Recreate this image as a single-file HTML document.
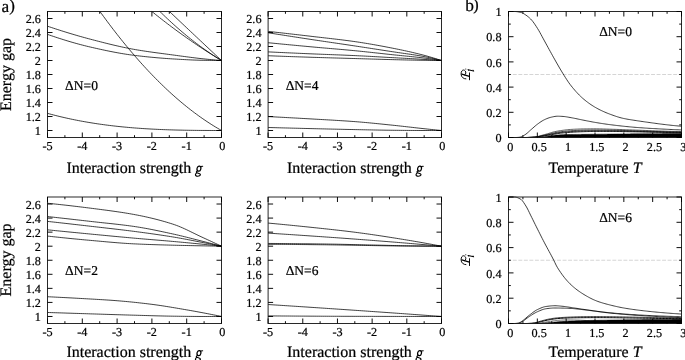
<!DOCTYPE html>
<html><head><meta charset="utf-8"><title>figure</title>
<style>html,body{margin:0;padding:0;background:#fff;}body{width:685px;height:360px;overflow:hidden;font-family:"Liberation Serif",serif;}svg{display:block;will-change:transform;}</style></head>
<body>
<svg width="685" height="360" viewBox="0 0 685 360" font-family='"Liberation Serif", serif' fill="#000" text-rendering="geometricPrecision">
<style>text{stroke:#000;stroke-width:0.22px;paint-order:stroke;}</style>
<rect width="685" height="360" fill="#fff"/>
<path d="M47.5,113.35L49.43,113.88L51.37,114.4L53.3,114.9L55.23,115.4L57.17,115.89L59.1,116.36L61.03,116.83L62.97,117.28L64.9,117.73L66.83,118.16L68.77,118.59L70.7,119L72.63,119.41L74.57,119.8L76.5,120.19L78.43,120.57L80.37,120.94L82.3,121.29L84.23,121.64L86.17,121.98L88.1,122.32L90.03,122.64L91.97,122.95L93.9,123.26L95.83,123.56L97.77,123.85L99.7,124.13L101.63,124.4L103.57,124.67L105.5,124.93L107.43,125.18L109.37,125.42L111.3,125.65L113.23,125.88L115.17,126.1L117.1,126.32L119.03,126.52L120.97,126.72L122.9,126.92L124.83,127.1L126.77,127.28L128.7,127.46L130.63,127.62L132.57,127.79L134.5,127.94L136.43,128.09L138.37,128.23L140.3,128.37L142.23,128.5L144.17,128.63L146.1,128.75L148.03,128.87L149.97,128.98L151.9,129.08L153.83,129.18L155.77,129.28L157.7,129.37L159.63,129.46L161.57,129.54L163.5,129.62L165.43,129.69L167.37,129.76L169.3,129.83L171.23,129.89L173.17,129.95L175.1,130L177.03,130.05L178.97,130.1L180.9,130.14L182.83,130.18L184.77,130.22L186.7,130.26L188.63,130.29L190.57,130.32L192.5,130.34L194.43,130.37L196.37,130.39L198.3,130.41L200.23,130.43L202.17,130.44L204.1,130.45L206.03,130.46L207.97,130.47L209.9,130.48L211.83,130.49L213.77,130.49L215.7,130.5L217.63,130.5L219.57,130.5L221.5,130.5" fill="none" stroke="#000" stroke-width="0.75" stroke-linejoin="round"/>
<path d="M99.95,11.5L101.63,13.83L103.57,16.49L105.5,19.12L107.43,21.73L109.37,24.31L111.3,26.87L113.23,29.4L115.17,31.9L117.1,34.38L119.03,36.84L120.97,39.27L122.9,41.67L124.83,44.05L126.77,46.4L128.7,48.73L130.63,51.03L132.57,53.31L134.5,55.56L136.43,57.78L138.37,59.98L140.3,62.16L142.23,64.3L144.17,66.43L146.1,68.53L148.03,70.6L149.97,72.65L151.9,74.67L153.83,76.66L155.77,78.64L157.7,80.58L159.63,82.5L161.57,84.39L163.5,86.26L165.43,88.11L167.37,89.93L169.3,91.72L171.23,93.49L173.17,95.23L175.1,96.94L177.03,98.63L178.97,100.3L180.9,101.94L182.83,103.55L184.77,105.14L186.7,106.71L188.63,108.25L190.57,109.76L192.5,111.25L194.43,112.71L196.37,114.14L198.3,115.55L200.23,116.94L202.17,118.3L204.1,119.63L206.03,120.94L207.97,122.23L209.9,123.49L211.83,124.72L213.77,125.93L215.7,127.11L217.63,128.26L219.57,129.39L221.5,130.5" fill="none" stroke="#000" stroke-width="0.75" stroke-linejoin="round"/>
<path d="M47.5,26.2L49.46,26.86L51.41,27.51L53.37,28.16L55.32,28.8L57.28,29.43L59.23,30.06L61.19,30.69L63.14,31.3L65.1,31.91L67.05,32.52L69.01,33.12L70.96,33.71L72.92,34.29L74.87,34.87L76.83,35.44L78.78,36L80.74,36.56L82.69,37.11L84.65,37.65L86.6,38.19L88.56,38.71L90.51,39.23L92.47,39.74L94.42,40.26L96.38,40.76L98.33,41.27L100.29,41.77L102.24,42.27L104.2,42.77L106.15,43.26L108.11,43.74L110.06,44.22L112.02,44.69L113.97,45.16L115.93,45.61L117.88,46.06L119.84,46.5L121.79,46.93L123.75,47.35L125.7,47.75L127.66,48.15L129.61,48.53L131.57,48.91L133.52,49.27L135.48,49.61L137.43,49.95L139.39,50.27L141.34,50.59L143.3,50.89L145.25,51.19L147.21,51.48L149.16,51.77L151.12,52.04L153.07,52.32L155.03,52.59L156.98,52.85L158.94,53.11L160.89,53.37L162.85,53.63L164.8,53.89L166.76,54.15L168.71,54.41L170.67,54.66L172.62,54.93L174.58,55.19L176.53,55.45L178.49,55.72L180.44,55.99L182.4,56.25L184.35,56.51L186.31,56.78L188.26,57.03L190.22,57.29L192.17,57.54L194.13,57.78L196.08,58.02L198.04,58.25L199.99,58.47L201.95,58.69L203.9,58.89L205.86,59.09L207.81,59.29L209.77,59.48L211.72,59.66L213.68,59.84L215.63,60.02L217.59,60.18L219.54,60.34L221.5,60.5" fill="none" stroke="#000" stroke-width="0.75" stroke-linejoin="round"/>
<path d="M47.5,34.39L49.46,35.07L51.41,35.73L53.37,36.39L55.32,37.05L57.28,37.69L59.23,38.33L61.19,38.95L63.14,39.57L65.1,40.18L67.05,40.78L69.01,41.36L70.96,41.94L72.92,42.51L74.87,43.06L76.83,43.61L78.78,44.14L80.74,44.66L82.69,45.17L84.65,45.67L86.6,46.16L88.56,46.63L90.51,47.09L92.47,47.54L94.42,47.98L96.38,48.42L98.33,48.86L100.29,49.29L102.24,49.71L104.2,50.13L106.15,50.55L108.11,50.95L110.06,51.35L112.02,51.73L113.97,52.11L115.93,52.48L117.88,52.84L119.84,53.19L121.79,53.53L123.75,53.85L125.7,54.16L127.66,54.46L129.61,54.74L131.57,55.01L133.52,55.27L135.48,55.51L137.43,55.74L139.39,55.97L141.34,56.19L143.3,56.41L145.25,56.62L147.21,56.82L149.16,57.02L151.12,57.21L153.07,57.39L155.03,57.57L156.98,57.75L158.94,57.91L160.89,58.07L162.85,58.23L164.8,58.38L166.76,58.52L168.71,58.66L170.67,58.78L172.62,58.91L174.58,59.03L176.53,59.14L178.49,59.26L180.44,59.37L182.4,59.48L184.35,59.59L186.31,59.7L188.26,59.79L190.22,59.89L192.17,59.97L194.13,60.05L196.08,60.12L198.04,60.18L199.99,60.24L201.95,60.28L203.9,60.31L205.86,60.35L207.81,60.38L209.77,60.41L211.72,60.43L213.68,60.45L215.63,60.47L217.59,60.49L219.54,60.5L221.5,60.5" fill="none" stroke="#000" stroke-width="0.75" stroke-linejoin="round"/>
<path d="M151.9,11.5L151.9,11.5L153.83,13.06L155.77,14.61L157.7,16.14L159.63,17.67L161.57,19.18L163.5,20.69L165.43,22.18L167.37,23.66L169.3,25.13L171.23,26.58L173.17,28.03L175.1,29.46L177.03,30.89L178.97,32.3L180.9,33.7L182.83,35.09L184.77,36.47L186.7,37.83L188.63,39.19L190.57,40.53L192.5,41.87L194.43,43.19L196.37,44.5L198.3,45.8L200.23,47.08L202.17,48.36L204.1,49.63L206.03,50.88L207.97,52.12L209.9,53.35L211.83,54.57L213.77,55.78L215.7,56.98L217.63,58.16L219.57,59.34L221.5,60.5" fill="none" stroke="#000" stroke-width="0.75" stroke-linejoin="round"/>
<path d="M159.92,11.5L161.57,13.12L163.5,15L165.43,16.86L167.37,18.69L169.3,20.49L171.23,22.28L173.17,24.04L175.1,25.78L177.03,27.5L178.97,29.19L180.9,30.85L182.83,32.5L184.77,34.12L186.7,35.72L188.63,37.3L190.57,38.85L192.5,40.38L194.43,41.88L196.37,43.36L198.3,44.82L200.23,46.25L202.17,47.67L204.1,49.06L206.03,50.42L207.97,51.76L209.9,53.08L211.83,54.37L213.77,55.65L215.7,56.89L217.63,58.12L219.57,59.32L221.5,60.5" fill="none" stroke="#000" stroke-width="0.75" stroke-linejoin="round"/>
<path d="M169.45,11.5L171.23,13.19L173.17,15.02L175.1,16.85L177.03,18.68L178.97,20.51L180.9,22.33L182.83,24.16L184.77,25.99L186.7,27.81L188.63,29.63L190.57,31.46L192.5,33.28L194.43,35.1L196.37,36.92L198.3,38.74L200.23,40.56L202.17,42.37L204.1,44.19L206.03,46.01L207.97,47.82L209.9,49.63L211.83,51.45L213.77,53.26L215.7,55.07L217.63,56.88L219.57,58.69L221.5,60.5" fill="none" stroke="#000" stroke-width="0.75" stroke-linejoin="round"/>
<path d="M268.1,31.38L270.05,31.6L272,31.82L273.94,32.03L275.89,32.25L277.84,32.47L279.79,32.69L281.74,32.91L283.69,33.14L285.63,33.36L287.58,33.58L289.53,33.8L291.48,34.03L293.43,34.25L295.38,34.48L297.32,34.7L299.27,34.93L301.22,35.15L303.17,35.38L305.12,35.61L307.07,35.84L309.01,36.06L310.96,36.29L312.91,36.52L314.86,36.75L316.81,36.97L318.76,37.2L320.7,37.42L322.65,37.64L324.6,37.86L326.55,38.08L328.5,38.3L330.45,38.53L332.39,38.75L334.34,38.98L336.29,39.21L338.24,39.44L340.19,39.68L342.14,39.92L344.08,40.16L346.03,40.41L347.98,40.66L349.93,40.92L351.88,41.19L353.83,41.46L355.77,41.74L357.72,42.03L359.67,42.32L361.62,42.62L363.57,42.93L365.52,43.25L367.46,43.57L369.41,43.9L371.36,44.23L373.31,44.57L375.26,44.92L377.21,45.27L379.15,45.62L381.1,45.98L383.05,46.34L385,46.71L386.95,47.08L388.9,47.46L390.84,47.84L392.79,48.22L394.74,48.61L396.69,49L398.64,49.4L400.59,49.8L402.53,50.21L404.48,50.63L406.43,51.05L408.38,51.48L410.33,51.92L412.28,52.37L414.22,52.83L416.17,53.3L418.12,53.77L420.07,54.26L422.02,54.75L423.97,55.26L425.91,55.78L427.86,56.32L429.81,56.88L431.76,57.46L433.71,58.04L435.66,58.64L437.6,59.25L439.55,59.87L441.5,60.5" fill="none" stroke="#000" stroke-width="0.75" stroke-linejoin="round"/>
<path d="M268.1,32.78L270.05,33.09L272,33.4L273.94,33.7L275.89,34.01L277.84,34.31L279.79,34.62L281.74,34.92L283.69,35.23L285.63,35.53L287.58,35.84L289.53,36.14L291.48,36.44L293.43,36.74L295.38,37.04L297.32,37.34L299.27,37.64L301.22,37.94L303.17,38.24L305.12,38.54L307.07,38.83L309.01,39.13L310.96,39.43L312.91,39.72L314.86,40.02L316.81,40.31L318.76,40.6L320.7,40.89L322.65,41.18L324.6,41.47L326.55,41.76L328.5,42.04L330.45,42.33L332.39,42.62L334.34,42.9L336.29,43.19L338.24,43.48L340.19,43.76L342.14,44.05L344.08,44.34L346.03,44.63L347.98,44.92L349.93,45.21L351.88,45.5L353.83,45.79L355.77,46.09L357.72,46.38L359.67,46.68L361.62,46.97L363.57,47.27L365.52,47.57L367.46,47.87L369.41,48.17L371.36,48.47L373.31,48.77L375.26,49.07L377.21,49.37L379.15,49.67L381.1,49.97L383.05,50.27L385,50.57L386.95,50.86L388.9,51.16L390.84,51.46L392.79,51.76L394.74,52.06L396.69,52.35L398.64,52.63L400.59,52.91L402.53,53.19L404.48,53.46L406.43,53.74L408.38,54.02L410.33,54.31L412.28,54.6L414.22,54.89L416.17,55.2L418.12,55.52L420.07,55.85L422.02,56.19L423.97,56.56L425.91,56.94L427.86,57.33L429.81,57.75L431.76,58.18L433.71,58.62L435.66,59.08L437.6,59.54L439.55,60.02L441.5,60.5" fill="none" stroke="#000" stroke-width="0.75" stroke-linejoin="round"/>
<path d="M268.1,42.72L270.05,42.91L272,43.1L273.94,43.29L275.89,43.48L277.84,43.67L279.79,43.86L281.74,44.05L283.69,44.24L285.63,44.42L287.58,44.61L289.53,44.8L291.48,44.98L293.43,45.17L295.38,45.35L297.32,45.54L299.27,45.72L301.22,45.9L303.17,46.08L305.12,46.26L307.07,46.45L309.01,46.63L310.96,46.81L312.91,46.98L314.86,47.16L316.81,47.33L318.76,47.51L320.7,47.68L322.65,47.85L324.6,48.02L326.55,48.18L328.5,48.35L330.45,48.52L332.39,48.69L334.34,48.85L336.29,49.02L338.24,49.19L340.19,49.36L342.14,49.53L344.08,49.71L346.03,49.88L347.98,50.06L349.93,50.24L351.88,50.42L353.83,50.61L355.77,50.79L357.72,50.99L359.67,51.18L361.62,51.38L363.57,51.58L365.52,51.79L367.46,52L369.41,52.2L371.36,52.41L373.31,52.63L375.26,52.84L377.21,53.05L379.15,53.26L381.1,53.48L383.05,53.69L385,53.9L386.95,54.12L388.9,54.33L390.84,54.53L392.79,54.74L394.74,54.94L396.69,55.14L398.64,55.34L400.59,55.53L402.53,55.73L404.48,55.92L406.43,56.11L408.38,56.3L410.33,56.5L412.28,56.7L414.22,56.9L416.17,57.11L418.12,57.32L420.07,57.54L422.02,57.77L423.97,58.01L425.91,58.25L427.86,58.51L429.81,58.78L431.76,59.05L433.71,59.33L435.66,59.61L437.6,59.9L439.55,60.2L441.5,60.5" fill="none" stroke="#000" stroke-width="0.75" stroke-linejoin="round"/>
<path d="M268.1,51.89L270.05,51.98L272,52.07L273.94,52.17L275.89,52.26L277.84,52.35L279.79,52.44L281.74,52.53L283.69,52.62L285.63,52.71L287.58,52.8L289.53,52.89L291.48,52.97L293.43,53.06L295.38,53.15L297.32,53.24L299.27,53.32L301.22,53.41L303.17,53.49L305.12,53.58L307.07,53.66L309.01,53.75L310.96,53.83L312.91,53.91L314.86,53.99L316.81,54.07L318.76,54.15L320.7,54.23L322.65,54.3L324.6,54.38L326.55,54.45L328.5,54.53L330.45,54.6L332.39,54.68L334.34,54.75L336.29,54.83L338.24,54.9L340.19,54.98L342.14,55.06L344.08,55.14L346.03,55.22L347.98,55.3L349.93,55.38L351.88,55.47L353.83,55.56L355.77,55.65L357.72,55.74L359.67,55.83L361.62,55.93L363.57,56.03L365.52,56.13L367.46,56.24L369.41,56.34L371.36,56.45L373.31,56.56L375.26,56.67L377.21,56.78L379.15,56.89L381.1,57L383.05,57.11L385,57.22L386.95,57.33L388.9,57.44L390.84,57.55L392.79,57.65L394.74,57.76L396.69,57.87L398.64,57.97L400.59,58.08L402.53,58.18L404.48,58.29L406.43,58.4L408.38,58.5L410.33,58.61L412.28,58.72L414.22,58.83L416.17,58.94L418.12,59.05L420.07,59.16L422.02,59.28L423.97,59.39L425.91,59.51L427.86,59.63L429.81,59.75L431.76,59.87L433.71,59.99L435.66,60.12L437.6,60.25L439.55,60.37L441.5,60.5" fill="none" stroke="#000" stroke-width="0.75" stroke-linejoin="round"/>
<path d="M268.1,55.74L270.05,55.82L272,55.89L273.94,55.96L275.89,56.04L277.84,56.11L279.79,56.18L281.74,56.26L283.69,56.33L285.63,56.4L287.58,56.47L289.53,56.54L291.48,56.61L293.43,56.68L295.38,56.74L297.32,56.81L299.27,56.88L301.22,56.94L303.17,57.01L305.12,57.07L307.07,57.14L309.01,57.2L310.96,57.26L312.91,57.33L314.86,57.39L316.81,57.45L318.76,57.51L320.7,57.57L322.65,57.62L324.6,57.68L326.55,57.74L328.5,57.79L330.45,57.85L332.39,57.91L334.34,57.96L336.29,58.02L338.24,58.07L340.19,58.13L342.14,58.18L344.08,58.24L346.03,58.29L347.98,58.34L349.93,58.4L351.88,58.46L353.83,58.51L355.77,58.57L357.72,58.63L359.67,58.68L361.62,58.74L363.57,58.8L365.52,58.86L367.46,58.92L369.41,58.98L371.36,59.04L373.31,59.09L375.26,59.15L377.21,59.21L379.15,59.27L381.1,59.32L383.05,59.38L385,59.43L386.95,59.49L388.9,59.54L390.84,59.59L392.79,59.64L394.74,59.69L396.69,59.74L398.64,59.78L400.59,59.83L402.53,59.88L404.48,59.93L406.43,59.97L408.38,60.02L410.33,60.06L412.28,60.1L414.22,60.14L416.17,60.18L418.12,60.22L420.07,60.25L422.02,60.28L423.97,60.31L425.91,60.34L427.86,60.36L429.81,60.39L431.76,60.41L433.71,60.43L435.66,60.45L437.6,60.47L439.55,60.49L441.5,60.5" fill="none" stroke="#000" stroke-width="0.75" stroke-linejoin="round"/>
<path d="M268.1,116.57L270.05,116.67L272,116.77L273.94,116.87L275.89,116.98L277.84,117.08L279.79,117.18L281.74,117.29L283.69,117.39L285.63,117.5L287.58,117.61L289.53,117.71L291.48,117.82L293.43,117.93L295.38,118.04L297.32,118.14L299.27,118.25L301.22,118.36L303.17,118.47L305.12,118.59L307.07,118.7L309.01,118.81L310.96,118.92L312.91,119.03L314.86,119.15L316.81,119.26L318.76,119.37L320.7,119.48L322.65,119.59L324.6,119.7L326.55,119.81L328.5,119.92L330.45,120.03L332.39,120.14L334.34,120.26L336.29,120.38L338.24,120.49L340.19,120.61L342.14,120.74L344.08,120.86L346.03,120.99L347.98,121.12L349.93,121.26L351.88,121.4L353.83,121.54L355.77,121.68L357.72,121.84L359.67,121.99L361.62,122.16L363.57,122.33L365.52,122.5L367.46,122.68L369.41,122.86L371.36,123.05L373.31,123.24L375.26,123.43L377.21,123.63L379.15,123.82L381.1,124.02L383.05,124.22L385,124.42L386.95,124.63L388.9,124.83L390.84,125.03L392.79,125.23L394.74,125.43L396.69,125.64L398.64,125.85L400.59,126.07L402.53,126.28L404.48,126.5L406.43,126.72L408.38,126.95L410.33,127.17L412.28,127.39L414.22,127.61L416.17,127.83L418.12,128.05L420.07,128.27L422.02,128.48L423.97,128.69L425.91,128.89L427.86,129.1L429.81,129.3L431.76,129.5L433.71,129.71L435.66,129.91L437.6,130.11L439.55,130.3L441.5,130.5" fill="none" stroke="#000" stroke-width="0.75" stroke-linejoin="round"/>
<path d="M268.1,127.49L270.05,127.54L272,127.6L273.94,127.65L275.89,127.7L277.84,127.75L279.79,127.81L281.74,127.86L283.69,127.91L285.63,127.96L287.58,128.01L289.53,128.06L291.48,128.11L293.43,128.16L295.38,128.21L297.32,128.26L299.27,128.31L301.22,128.36L303.17,128.41L305.12,128.46L307.07,128.5L309.01,128.55L310.96,128.6L312.91,128.65L314.86,128.69L316.81,128.74L318.76,128.79L320.7,128.83L322.65,128.88L324.6,128.92L326.55,128.97L328.5,129.02L330.45,129.06L332.39,129.11L334.34,129.15L336.29,129.19L338.24,129.24L340.19,129.28L342.14,129.32L344.08,129.37L346.03,129.41L347.98,129.45L349.93,129.49L351.88,129.53L353.83,129.57L355.77,129.61L357.72,129.65L359.67,129.69L361.62,129.73L363.57,129.77L365.52,129.81L367.46,129.85L369.41,129.89L371.36,129.93L373.31,129.97L375.26,130.01L377.21,130.04L379.15,130.08L381.1,130.11L383.05,130.15L385,130.18L386.95,130.21L388.9,130.23L390.84,130.26L392.79,130.28L394.74,130.3L396.69,130.32L398.64,130.34L400.59,130.36L402.53,130.38L404.48,130.4L406.43,130.42L408.38,130.43L410.33,130.45L412.28,130.46L414.22,130.47L416.17,130.48L418.12,130.49L420.07,130.5L422.02,130.5L423.97,130.5L425.91,130.5L427.86,130.5L429.81,130.5L431.76,130.5L433.71,130.5L435.66,130.5L437.6,130.5L439.55,130.5L441.5,130.5" fill="none" stroke="#000" stroke-width="0.75" stroke-linejoin="round"/>
<path d="M47.5,203.25L49.46,203.45L51.41,203.65L53.37,203.85L55.32,204.06L57.28,204.26L59.23,204.47L61.19,204.69L63.14,204.9L65.1,205.12L67.05,205.34L69.01,205.56L70.96,205.79L72.92,206.02L74.87,206.25L76.83,206.48L78.78,206.72L80.74,206.96L82.69,207.2L84.65,207.44L86.6,207.69L88.56,207.93L90.51,208.18L92.47,208.43L94.42,208.68L96.38,208.93L98.33,209.18L100.29,209.43L102.24,209.69L104.2,209.94L106.15,210.2L108.11,210.46L110.06,210.73L112.02,211L113.97,211.27L115.93,211.55L117.88,211.83L119.84,212.13L121.79,212.42L123.75,212.73L125.7,213.04L127.66,213.37L129.61,213.7L131.57,214.04L133.52,214.39L135.48,214.75L137.43,215.12L139.39,215.51L141.34,215.9L143.3,216.31L145.25,216.73L147.21,217.16L149.16,217.61L151.12,218.07L153.07,218.54L155.03,219.02L156.98,219.52L158.94,220.04L160.89,220.57L162.85,221.11L164.8,221.67L166.76,222.24L168.71,222.83L170.67,223.44L172.62,224.06L174.58,224.71L176.53,225.41L178.49,226.16L180.44,226.97L182.4,227.81L184.35,228.69L186.31,229.59L188.26,230.52L190.22,231.47L192.17,232.43L194.13,233.39L196.08,234.34L198.04,235.29L199.99,236.23L201.95,237.14L203.9,238.04L205.86,238.93L207.81,239.83L209.77,240.73L211.72,241.64L213.68,242.55L215.63,243.46L217.59,244.37L219.54,245.28L221.5,246.19" fill="none" stroke="#000" stroke-width="0.75" stroke-linejoin="round"/>
<path d="M47.5,216.54L49.46,216.76L51.41,216.97L53.37,217.19L55.32,217.41L57.28,217.63L59.23,217.85L61.19,218.07L63.14,218.29L65.1,218.51L67.05,218.73L69.01,218.95L70.96,219.17L72.92,219.39L74.87,219.62L76.83,219.84L78.78,220.06L80.74,220.28L82.69,220.51L84.65,220.73L86.6,220.95L88.56,221.18L90.51,221.4L92.47,221.62L94.42,221.84L96.38,222.06L98.33,222.27L100.29,222.48L102.24,222.69L104.2,222.9L106.15,223.11L108.11,223.31L110.06,223.52L112.02,223.73L113.97,223.95L115.93,224.17L117.88,224.39L119.84,224.61L121.79,224.84L123.75,225.08L125.7,225.32L127.66,225.57L129.61,225.83L131.57,226.1L133.52,226.37L135.48,226.66L137.43,226.96L139.39,227.27L141.34,227.6L143.3,227.94L145.25,228.29L147.21,228.64L149.16,229.01L151.12,229.39L153.07,229.78L155.03,230.17L156.98,230.57L158.94,230.97L160.89,231.38L162.85,231.8L164.8,232.22L166.76,232.64L168.71,233.07L170.67,233.49L172.62,233.92L174.58,234.35L176.53,234.79L178.49,235.24L180.44,235.71L182.4,236.18L184.35,236.65L186.31,237.14L188.26,237.63L190.22,238.13L192.17,238.62L194.13,239.13L196.08,239.63L198.04,240.13L199.99,240.63L201.95,241.13L203.9,241.62L205.86,242.12L207.81,242.62L209.77,243.13L211.72,243.63L213.68,244.14L215.63,244.65L217.59,245.16L219.54,245.68L221.5,246.19" fill="none" stroke="#000" stroke-width="0.75" stroke-linejoin="round"/>
<path d="M47.5,221.39L49.46,221.6L51.41,221.82L53.37,222.04L55.32,222.26L57.28,222.47L59.23,222.69L61.19,222.91L63.14,223.13L65.1,223.35L67.05,223.57L69.01,223.79L70.96,224.01L72.92,224.24L74.87,224.46L76.83,224.68L78.78,224.9L80.74,225.13L82.69,225.35L84.65,225.57L86.6,225.8L88.56,226.02L90.51,226.25L92.47,226.47L94.42,226.7L96.38,226.92L98.33,227.15L100.29,227.37L102.24,227.59L104.2,227.81L106.15,228.04L108.11,228.26L110.06,228.48L112.02,228.71L113.97,228.93L115.93,229.16L117.88,229.39L119.84,229.62L121.79,229.85L123.75,230.09L125.7,230.33L127.66,230.57L129.61,230.81L131.57,231.06L133.52,231.31L135.48,231.56L137.43,231.82L139.39,232.08L141.34,232.34L143.3,232.6L145.25,232.87L147.21,233.13L149.16,233.4L151.12,233.68L153.07,233.95L155.03,234.23L156.98,234.52L158.94,234.8L160.89,235.09L162.85,235.39L164.8,235.68L166.76,235.99L168.71,236.29L170.67,236.6L172.62,236.92L174.58,237.24L176.53,237.57L178.49,237.91L180.44,238.26L182.4,238.61L184.35,238.97L186.31,239.34L188.26,239.71L190.22,240.09L192.17,240.46L194.13,240.84L196.08,241.22L198.04,241.6L199.99,241.98L201.95,242.36L203.9,242.73L205.86,243.11L207.81,243.49L209.77,243.87L211.72,244.25L213.68,244.64L215.63,245.03L217.59,245.41L219.54,245.8L221.5,246.19" fill="none" stroke="#000" stroke-width="0.75" stroke-linejoin="round"/>
<path d="M47.5,229.82L49.46,230.02L51.41,230.21L53.37,230.41L55.32,230.61L57.28,230.8L59.23,231L61.19,231.19L63.14,231.39L65.1,231.58L67.05,231.77L69.01,231.97L70.96,232.16L72.92,232.35L74.87,232.54L76.83,232.73L78.78,232.92L80.74,233.11L82.69,233.3L84.65,233.49L86.6,233.68L88.56,233.87L90.51,234.06L92.47,234.25L94.42,234.44L96.38,234.62L98.33,234.81L100.29,235L102.24,235.18L104.2,235.37L106.15,235.56L108.11,235.74L110.06,235.93L112.02,236.11L113.97,236.3L115.93,236.48L117.88,236.67L119.84,236.85L121.79,237.03L123.75,237.21L125.7,237.39L127.66,237.57L129.61,237.74L131.57,237.92L133.52,238.1L135.48,238.27L137.43,238.44L139.39,238.61L141.34,238.78L143.3,238.94L145.25,239.11L147.21,239.27L149.16,239.43L151.12,239.59L153.07,239.76L155.03,239.92L156.98,240.08L158.94,240.24L160.89,240.4L162.85,240.57L164.8,240.73L166.76,240.9L168.71,241.07L170.67,241.24L172.62,241.41L174.58,241.58L176.53,241.76L178.49,241.94L180.44,242.12L182.4,242.3L184.35,242.48L186.31,242.66L188.26,242.85L190.22,243.03L192.17,243.22L194.13,243.41L196.08,243.59L198.04,243.78L199.99,243.98L201.95,244.17L203.9,244.36L205.86,244.56L207.81,244.76L209.77,244.96L211.72,245.16L213.68,245.36L215.63,245.57L217.59,245.78L219.54,245.98L221.5,246.19" fill="none" stroke="#000" stroke-width="0.75" stroke-linejoin="round"/>
<path d="M47.5,236.07L49.46,236.29L51.41,236.5L53.37,236.72L55.32,236.93L57.28,237.14L59.23,237.34L61.19,237.55L63.14,237.75L65.1,237.95L67.05,238.15L69.01,238.35L70.96,238.55L72.92,238.74L74.87,238.93L76.83,239.12L78.78,239.31L80.74,239.49L82.69,239.68L84.65,239.86L86.6,240.04L88.56,240.21L90.51,240.39L92.47,240.56L94.42,240.74L96.38,240.91L98.33,241.09L100.29,241.27L102.24,241.45L104.2,241.62L106.15,241.8L108.11,241.97L110.06,242.15L112.02,242.31L113.97,242.48L115.93,242.64L117.88,242.8L119.84,242.95L121.79,243.1L123.75,243.24L125.7,243.37L127.66,243.5L129.61,243.61L131.57,243.73L133.52,243.83L135.48,243.92L137.43,244.01L139.39,244.1L141.34,244.18L143.3,244.26L145.25,244.34L147.21,244.41L149.16,244.48L151.12,244.55L153.07,244.62L155.03,244.68L156.98,244.74L158.94,244.8L160.89,244.86L162.85,244.92L164.8,244.97L166.76,245.03L168.71,245.08L170.67,245.14L172.62,245.19L174.58,245.24L176.53,245.29L178.49,245.34L180.44,245.38L182.4,245.43L184.35,245.47L186.31,245.51L188.26,245.56L190.22,245.6L192.17,245.64L194.13,245.68L196.08,245.72L198.04,245.75L199.99,245.79L201.95,245.83L203.9,245.87L205.86,245.91L207.81,245.95L209.77,245.98L211.72,246.02L213.68,246.06L215.63,246.09L217.59,246.13L219.54,246.16L221.5,246.19" fill="none" stroke="#000" stroke-width="0.75" stroke-linejoin="round"/>
<path d="M47.5,296.72L49.46,296.82L51.41,296.91L53.37,297.01L55.32,297.11L57.28,297.21L59.23,297.3L61.19,297.41L63.14,297.51L65.1,297.61L67.05,297.71L69.01,297.82L70.96,297.92L72.92,298.03L74.87,298.14L76.83,298.24L78.78,298.35L80.74,298.46L82.69,298.57L84.65,298.68L86.6,298.79L88.56,298.9L90.51,299.01L92.47,299.12L94.42,299.23L96.38,299.35L98.33,299.46L100.29,299.58L102.24,299.69L104.2,299.82L106.15,299.94L108.11,300.07L110.06,300.2L112.02,300.34L113.97,300.48L115.93,300.63L117.88,300.79L119.84,300.95L121.79,301.11L123.75,301.29L125.7,301.46L127.66,301.65L129.61,301.84L131.57,302.03L133.52,302.23L135.48,302.43L137.43,302.64L139.39,302.86L141.34,303.08L143.3,303.3L145.25,303.53L147.21,303.76L149.16,304L151.12,304.24L153.07,304.49L155.03,304.76L156.98,305.03L158.94,305.31L160.89,305.6L162.85,305.89L164.8,306.2L166.76,306.51L168.71,306.82L170.67,307.14L172.62,307.47L174.58,307.79L176.53,308.12L178.49,308.46L180.44,308.79L182.4,309.13L184.35,309.46L186.31,309.8L188.26,310.14L190.22,310.48L192.17,310.82L194.13,311.17L196.08,311.53L198.04,311.89L199.99,312.25L201.95,312.61L203.9,312.98L205.86,313.36L207.81,313.73L209.77,314.12L211.72,314.5L213.68,314.89L215.63,315.28L217.59,315.67L219.54,316.07L221.5,316.47" fill="none" stroke="#000" stroke-width="0.75" stroke-linejoin="round"/>
<path d="M47.5,312.47L49.46,312.53L51.41,312.6L53.37,312.66L55.32,312.72L57.28,312.79L59.23,312.85L61.19,312.92L63.14,312.98L65.1,313.04L67.05,313.11L69.01,313.17L70.96,313.23L72.92,313.3L74.87,313.36L76.83,313.42L78.78,313.48L80.74,313.55L82.69,313.61L84.65,313.67L86.6,313.73L88.56,313.79L90.51,313.86L92.47,313.92L94.42,313.98L96.38,314.04L98.33,314.1L100.29,314.17L102.24,314.23L104.2,314.29L106.15,314.35L108.11,314.41L110.06,314.48L112.02,314.54L113.97,314.6L115.93,314.66L117.88,314.72L119.84,314.78L121.79,314.84L123.75,314.9L125.7,314.96L127.66,315.01L129.61,315.07L131.57,315.13L133.52,315.18L135.48,315.23L137.43,315.29L139.39,315.35L141.34,315.4L143.3,315.46L145.25,315.52L147.21,315.57L149.16,315.63L151.12,315.69L153.07,315.74L155.03,315.8L156.98,315.85L158.94,315.9L160.89,315.95L162.85,315.99L164.8,316.04L166.76,316.08L168.71,316.11L170.67,316.15L172.62,316.18L174.58,316.21L176.53,316.23L178.49,316.26L180.44,316.29L182.4,316.31L184.35,316.34L186.31,316.36L188.26,316.38L190.22,316.4L192.17,316.42L194.13,316.44L196.08,316.45L198.04,316.46L199.99,316.47L201.95,316.47L203.9,316.47L205.86,316.47L207.81,316.47L209.77,316.47L211.72,316.47L213.68,316.47L215.63,316.47L217.59,316.47L219.54,316.47L221.5,316.47" fill="none" stroke="#000" stroke-width="0.75" stroke-linejoin="round"/>
<path d="M268.1,223.07L270.05,223.25L272,223.44L273.94,223.62L275.89,223.8L277.84,223.99L279.79,224.17L281.74,224.36L283.69,224.55L285.63,224.74L287.58,224.93L289.53,225.12L291.48,225.32L293.43,225.51L295.38,225.71L297.32,225.9L299.27,226.1L301.22,226.3L303.17,226.5L305.12,226.7L307.07,226.9L309.01,227.1L310.96,227.31L312.91,227.51L314.86,227.72L316.81,227.92L318.76,228.13L320.7,228.33L322.65,228.54L324.6,228.75L326.55,228.95L328.5,229.16L330.45,229.38L332.39,229.59L334.34,229.8L336.29,230.02L338.24,230.24L340.19,230.46L342.14,230.69L344.08,230.91L346.03,231.14L347.98,231.38L349.93,231.62L351.88,231.86L353.83,232.1L355.77,232.35L357.72,232.61L359.67,232.86L361.62,233.13L363.57,233.39L365.52,233.66L367.46,233.93L369.41,234.21L371.36,234.49L373.31,234.77L375.26,235.06L377.21,235.35L379.15,235.64L381.1,235.93L383.05,236.23L385,236.53L386.95,236.83L388.9,237.13L390.84,237.44L392.79,237.75L394.74,238.06L396.69,238.37L398.64,238.68L400.59,239L402.53,239.31L404.48,239.63L406.43,239.95L408.38,240.27L410.33,240.59L412.28,240.92L414.22,241.25L416.17,241.58L418.12,241.92L420.07,242.26L422.02,242.61L423.97,242.95L425.91,243.3L427.86,243.66L429.81,244.01L431.76,244.37L433.71,244.73L435.66,245.09L437.6,245.46L439.55,245.83L441.5,246.19" fill="none" stroke="#000" stroke-width="0.75" stroke-linejoin="round"/>
<path d="M268.1,233.12L270.05,233.25L272,233.37L273.94,233.5L275.89,233.63L277.84,233.75L279.79,233.88L281.74,234.01L283.69,234.14L285.63,234.27L287.58,234.39L289.53,234.52L291.48,234.65L293.43,234.78L295.38,234.91L297.32,235.04L299.27,235.18L301.22,235.31L303.17,235.44L305.12,235.57L307.07,235.7L309.01,235.84L310.96,235.97L312.91,236.1L314.86,236.24L316.81,236.37L318.76,236.51L320.7,236.64L322.65,236.78L324.6,236.91L326.55,237.05L328.5,237.18L330.45,237.32L332.39,237.46L334.34,237.59L336.29,237.73L338.24,237.87L340.19,238.01L342.14,238.15L344.08,238.29L346.03,238.43L347.98,238.57L349.93,238.72L351.88,238.86L353.83,239.01L355.77,239.15L357.72,239.3L359.67,239.44L361.62,239.59L363.57,239.74L365.52,239.89L367.46,240.03L369.41,240.18L371.36,240.33L373.31,240.48L375.26,240.64L377.21,240.79L379.15,240.94L381.1,241.09L383.05,241.25L385,241.4L386.95,241.56L388.9,241.71L390.84,241.87L392.79,242.02L394.74,242.18L396.69,242.34L398.64,242.5L400.59,242.66L402.53,242.82L404.48,242.98L406.43,243.14L408.38,243.3L410.33,243.47L412.28,243.63L414.22,243.79L416.17,243.96L418.12,244.13L420.07,244.3L422.02,244.46L423.97,244.63L425.91,244.8L427.86,244.98L429.81,245.15L431.76,245.32L433.71,245.49L435.66,245.67L437.6,245.84L439.55,246.02L441.5,246.19" fill="none" stroke="#000" stroke-width="0.75" stroke-linejoin="round"/>
<path d="M268.1,243.45L270.05,243.46L272,243.47L273.94,243.48L275.89,243.49L277.84,243.5L279.79,243.52L281.74,243.53L283.69,243.55L285.63,243.56L287.58,243.58L289.53,243.6L291.48,243.62L293.43,243.63L295.38,243.65L297.32,243.67L299.27,243.7L301.22,243.72L303.17,243.74L305.12,243.76L307.07,243.78L309.01,243.81L310.96,243.83L312.91,243.86L314.86,243.88L316.81,243.91L318.76,243.93L320.7,243.96L322.65,243.98L324.6,244.01L326.55,244.04L328.5,244.07L330.45,244.1L332.39,244.13L334.34,244.17L336.29,244.2L338.24,244.24L340.19,244.28L342.14,244.32L344.08,244.36L346.03,244.4L347.98,244.45L349.93,244.49L351.88,244.54L353.83,244.58L355.77,244.63L357.72,244.67L359.67,244.72L361.62,244.76L363.57,244.81L365.52,244.85L367.46,244.9L369.41,244.94L371.36,244.98L373.31,245.03L375.26,245.07L377.21,245.11L379.15,245.16L381.1,245.21L383.05,245.25L385,245.3L386.95,245.35L388.9,245.4L390.84,245.44L392.79,245.49L394.74,245.54L396.69,245.58L398.64,245.62L400.59,245.66L402.53,245.7L404.48,245.73L406.43,245.77L408.38,245.8L410.33,245.83L412.28,245.86L414.22,245.89L416.17,245.91L418.12,245.94L420.07,245.97L422.02,245.99L423.97,246.02L425.91,246.04L427.86,246.07L429.81,246.09L431.76,246.11L433.71,246.13L435.66,246.15L437.6,246.16L439.55,246.18L441.5,246.19" fill="none" stroke="#000" stroke-width="0.75" stroke-linejoin="round"/>
<path d="M268.1,244.3L270.05,244.31L272,244.32L273.94,244.33L275.89,244.34L277.84,244.35L279.79,244.36L281.74,244.37L283.69,244.39L285.63,244.4L287.58,244.42L289.53,244.43L291.48,244.45L293.43,244.47L295.38,244.48L297.32,244.5L299.27,244.52L301.22,244.54L303.17,244.56L305.12,244.57L307.07,244.59L309.01,244.61L310.96,244.63L312.91,244.66L314.86,244.68L316.81,244.7L318.76,244.72L320.7,244.74L322.65,244.76L324.6,244.78L326.55,244.81L328.5,244.83L330.45,244.86L332.39,244.89L334.34,244.91L336.29,244.94L338.24,244.98L340.19,245.01L342.14,245.04L344.08,245.07L346.03,245.11L347.98,245.14L349.93,245.18L351.88,245.21L353.83,245.25L355.77,245.28L357.72,245.32L359.67,245.35L361.62,245.39L363.57,245.42L365.52,245.46L367.46,245.49L369.41,245.52L371.36,245.55L373.31,245.58L375.26,245.61L377.21,245.64L379.15,245.67L381.1,245.71L383.05,245.74L385,245.77L386.95,245.81L388.9,245.84L390.84,245.87L392.79,245.9L394.74,245.93L396.69,245.95L398.64,245.98L400.59,246L402.53,246.02L404.48,246.04L406.43,246.05L408.38,246.06L410.33,246.08L412.28,246.09L414.22,246.1L416.17,246.11L418.12,246.12L420.07,246.13L422.02,246.14L423.97,246.15L425.91,246.16L427.86,246.17L429.81,246.17L431.76,246.18L433.71,246.18L435.66,246.19L437.6,246.19L439.55,246.19L441.5,246.19" fill="none" stroke="#000" stroke-width="0.75" stroke-linejoin="round"/>
<path d="M268.1,304.53L270.05,304.65L272,304.77L273.94,304.9L275.89,305.03L277.84,305.15L279.79,305.28L281.74,305.4L283.69,305.53L285.63,305.66L287.58,305.78L289.53,305.91L291.48,306.04L293.43,306.17L295.38,306.29L297.32,306.42L299.27,306.55L301.22,306.68L303.17,306.81L305.12,306.93L307.07,307.06L309.01,307.19L310.96,307.32L312.91,307.45L314.86,307.58L316.81,307.71L318.76,307.84L320.7,307.97L322.65,308.1L324.6,308.23L326.55,308.36L328.5,308.5L330.45,308.63L332.39,308.76L334.34,308.89L336.29,309.02L338.24,309.16L340.19,309.29L342.14,309.42L344.08,309.55L346.03,309.69L347.98,309.82L349.93,309.95L351.88,310.09L353.83,310.22L355.77,310.35L357.72,310.49L359.67,310.62L361.62,310.76L363.57,310.89L365.52,311.03L367.46,311.16L369.41,311.3L371.36,311.44L373.31,311.57L375.26,311.71L377.21,311.84L379.15,311.98L381.1,312.12L383.05,312.26L385,312.39L386.95,312.53L388.9,312.67L390.84,312.81L392.79,312.94L394.74,313.08L396.69,313.22L398.64,313.36L400.59,313.5L402.53,313.64L404.48,313.78L406.43,313.92L408.38,314.06L410.33,314.2L412.28,314.34L414.22,314.48L416.17,314.62L418.12,314.76L420.07,314.9L422.02,315.05L423.97,315.19L425.91,315.33L427.86,315.47L429.81,315.61L431.76,315.76L433.71,315.9L435.66,316.04L437.6,316.19L439.55,316.33L441.5,316.47" fill="none" stroke="#000" stroke-width="0.75" stroke-linejoin="round"/>
<path d="M268.1,315.91L270.05,315.92L272,315.94L273.94,315.95L275.89,315.96L277.84,315.97L279.79,315.98L281.74,316L283.69,316.01L285.63,316.02L287.58,316.03L289.53,316.04L291.48,316.06L293.43,316.07L295.38,316.08L297.32,316.09L299.27,316.1L301.22,316.11L303.17,316.12L305.12,316.13L307.07,316.14L309.01,316.15L310.96,316.16L312.91,316.17L314.86,316.18L316.81,316.19L318.76,316.2L320.7,316.21L322.65,316.22L324.6,316.23L326.55,316.24L328.5,316.24L330.45,316.25L332.39,316.26L334.34,316.27L336.29,316.27L338.24,316.28L340.19,316.29L342.14,316.3L344.08,316.3L346.03,316.31L347.98,316.31L349.93,316.32L351.88,316.32L353.83,316.33L355.77,316.33L357.72,316.34L359.67,316.34L361.62,316.35L363.57,316.35L365.52,316.36L367.46,316.36L369.41,316.37L371.36,316.37L373.31,316.38L375.26,316.38L377.21,316.38L379.15,316.39L381.1,316.39L383.05,316.4L385,316.4L386.95,316.41L388.9,316.41L390.84,316.41L392.79,316.42L394.74,316.42L396.69,316.43L398.64,316.43L400.59,316.43L402.53,316.44L404.48,316.44L406.43,316.44L408.38,316.45L410.33,316.45L412.28,316.45L414.22,316.45L416.17,316.46L418.12,316.46L420.07,316.46L422.02,316.46L423.97,316.46L425.91,316.47L427.86,316.47L429.81,316.47L431.76,316.47L433.71,316.47L435.66,316.47L437.6,316.47L439.55,316.47L441.5,316.47" fill="none" stroke="#000" stroke-width="0.75" stroke-linejoin="round"/>
<rect x="47.5" y="11.5" width="174" height="126" fill="none" stroke="#1e1e1e" stroke-width="0.95"/>
<path d="M47.5,137.5v-5M47.5,11.5v5M82.3,137.5v-5M82.3,11.5v5M117.1,137.5v-5M117.1,11.5v5M151.9,137.5v-5M151.9,11.5v5M186.7,137.5v-5M186.7,11.5v5M221.5,137.5v-5M221.5,11.5v5M64.9,137.5v-2.3M64.9,11.5v2.3M99.7,137.5v-2.3M99.7,11.5v2.3M134.5,137.5v-2.3M134.5,11.5v2.3M169.3,137.5v-2.3M169.3,11.5v2.3M204.1,137.5v-2.3M204.1,11.5v2.3M47.5,130.5h5M221.5,130.5h-5M47.5,116.5h5M221.5,116.5h-5M47.5,102.5h5M221.5,102.5h-5M47.5,88.5h5M221.5,88.5h-5M47.5,74.5h5M221.5,74.5h-5M47.5,60.5h5M221.5,60.5h-5M47.5,46.5h5M221.5,46.5h-5M47.5,32.5h5M221.5,32.5h-5M47.5,18.5h5M221.5,18.5h-5" fill="none" stroke="#000" stroke-width="0.95"/>
<text x="47.5" y="150.2" font-size="12.2" text-anchor="middle">-5</text>
<text x="82.3" y="150.2" font-size="12.2" text-anchor="middle">-4</text>
<text x="117.1" y="150.2" font-size="12.2" text-anchor="middle">-3</text>
<text x="151.9" y="150.2" font-size="12.2" text-anchor="middle">-2</text>
<text x="186.7" y="150.2" font-size="12.2" text-anchor="middle">-1</text>
<text x="222.2" y="150.2" font-size="12.2" text-anchor="middle">0</text>
<text x="40.9" y="135.2" font-size="12.2" text-anchor="end">1</text>
<text x="40.9" y="121.2" font-size="12.2" text-anchor="end">1.2</text>
<text x="40.9" y="107.2" font-size="12.2" text-anchor="end">1.4</text>
<text x="40.9" y="93.2" font-size="12.2" text-anchor="end">1.6</text>
<text x="40.9" y="79.2" font-size="12.2" text-anchor="end">1.8</text>
<text x="40.9" y="65.2" font-size="12.2" text-anchor="end">2</text>
<text x="40.9" y="51.2" font-size="12.2" text-anchor="end">2.2</text>
<text x="40.9" y="37.2" font-size="12.2" text-anchor="end">2.4</text>
<text x="40.9" y="23.2" font-size="12.2" text-anchor="end">2.6</text>
<text x="65.1" y="89.8" font-size="13.5">ΔN=0</text>
<text x="66.4" y="172.5" font-size="16.0">Interaction strength</text>
<g transform="translate(194.7,172.5)" fill="none" stroke="#000" stroke-linecap="round" stroke-linejoin="round"><ellipse cx="4.25" cy="-3.85" rx="1.9" ry="2.55" transform="rotate(14 4.25 -3.85)" stroke-width="1.25"/><path d="M6.0,-6.05L8.0,-6.2" stroke-width="1.05"/><path d="M2.8,-1.5C1.5,-1.0 1.3,-0.1 2.3,0.3C3.9,0.9 5.7,1.0 5.7,2.1C5.7,3.2 4.3,3.75 2.9,3.7C1.5,3.65 0.6,3.0 0.75,2.1C0.9,1.3 1.5,0.7 2.3,0.3" stroke-width="1.15"/></g>
<rect x="268.1" y="11.5" width="173.4" height="126" fill="none" stroke="#1e1e1e" stroke-width="0.95"/>
<path d="M268.1,137.5v-5M268.1,11.5v5M302.78,137.5v-5M302.78,11.5v5M337.46,137.5v-5M337.46,11.5v5M372.14,137.5v-5M372.14,11.5v5M406.82,137.5v-5M406.82,11.5v5M441.5,137.5v-5M441.5,11.5v5M285.44,137.5v-2.3M285.44,11.5v2.3M320.12,137.5v-2.3M320.12,11.5v2.3M354.8,137.5v-2.3M354.8,11.5v2.3M389.48,137.5v-2.3M389.48,11.5v2.3M424.16,137.5v-2.3M424.16,11.5v2.3M268.1,130.5h5M441.5,130.5h-5M268.1,116.5h5M441.5,116.5h-5M268.1,102.5h5M441.5,102.5h-5M268.1,88.5h5M441.5,88.5h-5M268.1,74.5h5M441.5,74.5h-5M268.1,60.5h5M441.5,60.5h-5M268.1,46.5h5M441.5,46.5h-5M268.1,32.5h5M441.5,32.5h-5M268.1,18.5h5M441.5,18.5h-5" fill="none" stroke="#000" stroke-width="0.95"/>
<text x="268.1" y="150.2" font-size="12.2" text-anchor="middle">-5</text>
<text x="302.78" y="150.2" font-size="12.2" text-anchor="middle">-4</text>
<text x="337.46" y="150.2" font-size="12.2" text-anchor="middle">-3</text>
<text x="372.14" y="150.2" font-size="12.2" text-anchor="middle">-2</text>
<text x="406.82" y="150.2" font-size="12.2" text-anchor="middle">-1</text>
<text x="442.2" y="150.2" font-size="12.2" text-anchor="middle">0</text>
<text x="261.5" y="135.2" font-size="12.2" text-anchor="end">1</text>
<text x="261.5" y="121.2" font-size="12.2" text-anchor="end">1.2</text>
<text x="261.5" y="107.2" font-size="12.2" text-anchor="end">1.4</text>
<text x="261.5" y="93.2" font-size="12.2" text-anchor="end">1.6</text>
<text x="261.5" y="79.2" font-size="12.2" text-anchor="end">1.8</text>
<text x="261.5" y="65.2" font-size="12.2" text-anchor="end">2</text>
<text x="261.5" y="51.2" font-size="12.2" text-anchor="end">2.2</text>
<text x="261.5" y="37.2" font-size="12.2" text-anchor="end">2.4</text>
<text x="261.5" y="23.2" font-size="12.2" text-anchor="end">2.6</text>
<text x="285.7" y="89.8" font-size="13.5">ΔN=4</text>
<text x="287" y="172.5" font-size="16.0">Interaction strength</text>
<g transform="translate(415.3,172.5)" fill="none" stroke="#000" stroke-linecap="round" stroke-linejoin="round"><ellipse cx="4.25" cy="-3.85" rx="1.9" ry="2.55" transform="rotate(14 4.25 -3.85)" stroke-width="1.25"/><path d="M6.0,-6.05L8.0,-6.2" stroke-width="1.05"/><path d="M2.8,-1.5C1.5,-1.0 1.3,-0.1 2.3,0.3C3.9,0.9 5.7,1.0 5.7,2.1C5.7,3.2 4.3,3.75 2.9,3.7C1.5,3.65 0.6,3.0 0.75,2.1C0.9,1.3 1.5,0.7 2.3,0.3" stroke-width="1.15"/></g>
<rect x="47.5" y="197" width="174" height="126.5" fill="none" stroke="#1e1e1e" stroke-width="0.95"/>
<path d="M47.5,323.5v-5M47.5,197v5M82.3,323.5v-5M82.3,197v5M117.1,323.5v-5M117.1,197v5M151.9,323.5v-5M151.9,197v5M186.7,323.5v-5M186.7,197v5M221.5,323.5v-5M221.5,197v5M64.9,323.5v-2.3M64.9,197v2.3M99.7,323.5v-2.3M99.7,197v2.3M134.5,323.5v-2.3M134.5,197v2.3M169.3,323.5v-2.3M169.3,197v2.3M204.1,323.5v-2.3M204.1,197v2.3M47.5,316.47h5M221.5,316.47h-5M47.5,302.42h5M221.5,302.42h-5M47.5,288.36h5M221.5,288.36h-5M47.5,274.31h5M221.5,274.31h-5M47.5,260.25h5M221.5,260.25h-5M47.5,246.19h5M221.5,246.19h-5M47.5,232.14h5M221.5,232.14h-5M47.5,218.08h5M221.5,218.08h-5M47.5,204.03h5M221.5,204.03h-5" fill="none" stroke="#000" stroke-width="0.95"/>
<text x="47.5" y="336.2" font-size="12.2" text-anchor="middle">-5</text>
<text x="82.3" y="336.2" font-size="12.2" text-anchor="middle">-4</text>
<text x="117.1" y="336.2" font-size="12.2" text-anchor="middle">-3</text>
<text x="151.9" y="336.2" font-size="12.2" text-anchor="middle">-2</text>
<text x="186.7" y="336.2" font-size="12.2" text-anchor="middle">-1</text>
<text x="222.2" y="336.2" font-size="12.2" text-anchor="middle">0</text>
<text x="40.9" y="321.17" font-size="12.2" text-anchor="end">1</text>
<text x="40.9" y="307.12" font-size="12.2" text-anchor="end">1.2</text>
<text x="40.9" y="293.06" font-size="12.2" text-anchor="end">1.4</text>
<text x="40.9" y="279.01" font-size="12.2" text-anchor="end">1.6</text>
<text x="40.9" y="264.95" font-size="12.2" text-anchor="end">1.8</text>
<text x="40.9" y="250.89" font-size="12.2" text-anchor="end">2</text>
<text x="40.9" y="236.84" font-size="12.2" text-anchor="end">2.2</text>
<text x="40.9" y="222.78" font-size="12.2" text-anchor="end">2.4</text>
<text x="40.9" y="208.73" font-size="12.2" text-anchor="end">2.6</text>
<text x="65.1" y="275.3" font-size="13.5">ΔN=2</text>
<text x="66.4" y="357" font-size="16.0">Interaction strength</text>
<g transform="translate(194.7,357)" fill="none" stroke="#000" stroke-linecap="round" stroke-linejoin="round"><ellipse cx="4.25" cy="-3.85" rx="1.9" ry="2.55" transform="rotate(14 4.25 -3.85)" stroke-width="1.25"/><path d="M6.0,-6.05L8.0,-6.2" stroke-width="1.05"/><path d="M2.8,-1.5C1.5,-1.0 1.3,-0.1 2.3,0.3C3.9,0.9 5.7,1.0 5.7,2.1C5.7,3.2 4.3,3.75 2.9,3.7C1.5,3.65 0.6,3.0 0.75,2.1C0.9,1.3 1.5,0.7 2.3,0.3" stroke-width="1.15"/></g>
<rect x="268.1" y="197" width="173.4" height="126.5" fill="none" stroke="#1e1e1e" stroke-width="0.95"/>
<path d="M268.1,323.5v-5M268.1,197v5M302.78,323.5v-5M302.78,197v5M337.46,323.5v-5M337.46,197v5M372.14,323.5v-5M372.14,197v5M406.82,323.5v-5M406.82,197v5M441.5,323.5v-5M441.5,197v5M285.44,323.5v-2.3M285.44,197v2.3M320.12,323.5v-2.3M320.12,197v2.3M354.8,323.5v-2.3M354.8,197v2.3M389.48,323.5v-2.3M389.48,197v2.3M424.16,323.5v-2.3M424.16,197v2.3M268.1,316.47h5M441.5,316.47h-5M268.1,302.42h5M441.5,302.42h-5M268.1,288.36h5M441.5,288.36h-5M268.1,274.31h5M441.5,274.31h-5M268.1,260.25h5M441.5,260.25h-5M268.1,246.19h5M441.5,246.19h-5M268.1,232.14h5M441.5,232.14h-5M268.1,218.08h5M441.5,218.08h-5M268.1,204.03h5M441.5,204.03h-5" fill="none" stroke="#000" stroke-width="0.95"/>
<text x="268.1" y="336.2" font-size="12.2" text-anchor="middle">-5</text>
<text x="302.78" y="336.2" font-size="12.2" text-anchor="middle">-4</text>
<text x="337.46" y="336.2" font-size="12.2" text-anchor="middle">-3</text>
<text x="372.14" y="336.2" font-size="12.2" text-anchor="middle">-2</text>
<text x="406.82" y="336.2" font-size="12.2" text-anchor="middle">-1</text>
<text x="442.2" y="336.2" font-size="12.2" text-anchor="middle">0</text>
<text x="261.5" y="321.17" font-size="12.2" text-anchor="end">1</text>
<text x="261.5" y="307.12" font-size="12.2" text-anchor="end">1.2</text>
<text x="261.5" y="293.06" font-size="12.2" text-anchor="end">1.4</text>
<text x="261.5" y="279.01" font-size="12.2" text-anchor="end">1.6</text>
<text x="261.5" y="264.95" font-size="12.2" text-anchor="end">1.8</text>
<text x="261.5" y="250.89" font-size="12.2" text-anchor="end">2</text>
<text x="261.5" y="236.84" font-size="12.2" text-anchor="end">2.2</text>
<text x="261.5" y="222.78" font-size="12.2" text-anchor="end">2.4</text>
<text x="261.5" y="208.73" font-size="12.2" text-anchor="end">2.6</text>
<text x="285.7" y="275.3" font-size="13.5">ΔN=6</text>
<text x="287" y="357" font-size="16.0">Interaction strength</text>
<g transform="translate(415.3,357)" fill="none" stroke="#000" stroke-linecap="round" stroke-linejoin="round"><ellipse cx="4.25" cy="-3.85" rx="1.9" ry="2.55" transform="rotate(14 4.25 -3.85)" stroke-width="1.25"/><path d="M6.0,-6.05L8.0,-6.2" stroke-width="1.05"/><path d="M2.8,-1.5C1.5,-1.0 1.3,-0.1 2.3,0.3C3.9,0.9 5.7,1.0 5.7,2.1C5.7,3.2 4.3,3.75 2.9,3.7C1.5,3.65 0.6,3.0 0.75,2.1C0.9,1.3 1.5,0.7 2.3,0.3" stroke-width="1.15"/></g>
<text transform="translate(10.9,74.5) rotate(-90)" font-size="16.0" text-anchor="middle">Energy gap</text>
<text transform="translate(10.9,259.95) rotate(-90)" font-size="16.0" text-anchor="middle">Energy gap</text>
<path d="M508.5,74.5H681.5" stroke="#cdcdcd" stroke-width="0.85" stroke-dasharray="3.9,1.63" stroke-dashoffset="1.2" fill="none"/>
<path d="M508.5,11.5L509.66,11.5L510.82,11.5L511.98,11.5L513.14,11.5L514.31,11.5L515.47,11.54L516.63,11.64L517.79,11.8L518.95,12L520.11,12.24L521.27,12.51L522.43,12.98L523.59,13.61L524.76,14.34L525.92,15.1L527.08,15.92L528.24,16.83L529.4,17.84L530.56,18.95L531.72,20.17L532.88,21.58L534.04,23.15L535.2,24.85L536.37,26.62L537.53,28.44L538.69,30.35L539.85,32.39L541.01,34.51L542.17,36.67L543.33,38.83L544.49,40.96L545.65,43.06L546.82,45.18L547.98,47.31L549.14,49.43L550.3,51.53L551.46,53.63L552.62,55.73L553.78,57.82L554.94,59.89L556.1,61.95L557.27,63.98L558.43,65.99L559.59,67.99L560.75,69.96L561.91,71.9L563.07,73.78L564.23,75.64L565.39,77.49L566.55,79.31L567.71,81.09L568.88,82.79L570.04,84.39L571.2,85.88L572.36,87.32L573.52,88.72L574.68,90.08L575.84,91.41L577,92.68L578.16,93.92L579.33,95.11L580.49,96.25L581.65,97.34L582.81,98.38L583.97,99.38L585.13,100.33L586.29,101.25L587.45,102.14L588.61,103L589.78,103.83L590.94,104.63L592.1,105.4L593.26,106.14L594.42,106.85L595.58,107.53L596.74,108.18L597.9,108.81L599.06,109.41L600.22,110L601.39,110.56L602.55,111.1L603.71,111.63L604.87,112.14L606.03,112.63L607.19,113.11L608.35,113.57L609.51,114.01L610.67,114.44L611.84,114.87L613,115.29L614.16,115.7L615.32,116.1L616.48,116.49L617.64,116.86L618.8,117.21L619.96,117.55L621.12,117.86L622.29,118.15L623.45,118.42L624.61,118.66L625.77,118.89L626.93,119.11L628.09,119.32L629.25,119.51L630.41,119.7L631.57,119.89L632.73,120.07L633.9,120.25L635.06,120.42L636.22,120.6L637.38,120.79L638.54,120.96L639.7,121.14L640.86,121.31L642.02,121.47L643.18,121.64L644.35,121.8L645.51,121.97L646.67,122.13L647.83,122.29L648.99,122.45L650.15,122.61L651.31,122.78L652.47,122.94L653.63,123.1L654.8,123.26L655.96,123.42L657.12,123.58L658.28,123.74L659.44,123.89L660.6,124.04L661.76,124.18L662.92,124.32L664.08,124.46L665.24,124.6L666.41,124.73L667.57,124.86L668.73,124.99L669.89,125.12L671.05,125.25L672.21,125.38L673.37,125.5L674.53,125.62L675.69,125.74L676.86,125.85L678.02,125.96L679.18,126.07L680.34,126.18L681.5,126.29" fill="none" stroke="#000" stroke-width="0.75" stroke-linejoin="round"/>
<path d="M508.5,137.5L509.66,137.5L510.82,137.5L511.98,137.5L513.14,137.5L514.31,137.5L515.47,137.5L516.63,137.47L517.79,137.4L518.95,137.3L520.11,137.14L521.27,136.76L522.43,136.22L523.59,135.58L524.76,134.92L525.92,134.14L527.08,133.22L528.24,132.19L529.4,131.12L530.56,130.06L531.72,129.06L532.88,128.04L534.04,127L535.2,125.99L536.37,125.02L537.53,124.13L538.69,123.28L539.85,122.45L541.01,121.66L542.17,120.93L543.33,120.26L544.49,119.68L545.65,119.14L546.82,118.64L547.98,118.18L549.14,117.78L550.3,117.43L551.46,117.15L552.62,116.89L553.78,116.64L554.94,116.43L556.1,116.28L557.27,116.21L558.43,116.21L559.59,116.25L560.75,116.3L561.91,116.37L563.07,116.44L564.23,116.54L565.39,116.68L566.55,116.86L567.71,117.06L568.88,117.27L570.04,117.48L571.2,117.69L572.36,117.9L573.52,118.12L574.68,118.35L575.84,118.59L577,118.83L578.16,119.08L579.33,119.33L580.49,119.57L581.65,119.81L582.81,120.05L583.97,120.28L585.13,120.51L586.29,120.74L587.45,120.97L588.61,121.2L589.78,121.42L590.94,121.65L592.1,121.86L593.26,122.08L594.42,122.28L595.58,122.48L596.74,122.67L597.9,122.86L599.06,123.05L600.22,123.24L601.39,123.42L602.55,123.6L603.71,123.78L604.87,123.95L606.03,124.12L607.19,124.28L608.35,124.44L609.51,124.59L610.67,124.73L611.84,124.88L613,125.02L614.16,125.16L615.32,125.3L616.48,125.44L617.64,125.58L618.8,125.71L619.96,125.84L621.12,125.97L622.29,126.1L623.45,126.22L624.61,126.35L625.77,126.47L626.93,126.58L628.09,126.7L629.25,126.81L630.41,126.92L631.57,127.02L632.73,127.13L633.9,127.23L635.06,127.32L636.22,127.41L637.38,127.5L638.54,127.59L639.7,127.68L640.86,127.76L642.02,127.84L643.18,127.92L644.35,128L645.51,128.08L646.67,128.15L647.83,128.23L648.99,128.3L650.15,128.37L651.31,128.44L652.47,128.51L653.63,128.57L654.8,128.64L655.96,128.71L657.12,128.77L658.28,128.83L659.44,128.9L660.6,128.96L661.76,129.02L662.92,129.08L664.08,129.14L665.24,129.2L666.41,129.26L667.57,129.32L668.73,129.38L669.89,129.43L671.05,129.49L672.21,129.54L673.37,129.59L674.53,129.65L675.69,129.7L676.86,129.75L678.02,129.8L679.18,129.85L680.34,129.89L681.5,129.94" fill="none" stroke="#000" stroke-width="0.75" stroke-linejoin="round"/>
<path d="M508.5,137.5L509.94,137.5L511.38,137.5L512.83,137.5L514.27,137.5L515.71,137.5L517.15,137.5L518.59,137.5L520.03,137.5L521.48,137.5L522.92,137.5L524.36,137.5L525.8,137.5L527.24,137.48L528.68,137.42L530.12,137.34L531.57,137.25L533.01,137.14L534.45,137L535.89,136.83L537.33,136.58L538.77,136.21L540.22,135.78L541.66,135.36L543.1,134.97L544.54,134.59L545.98,134.2L547.42,133.8L548.87,133.37L550.31,132.9L551.75,132.44L553.19,132.03L554.63,131.69L556.08,131.38L557.52,131.11L558.96,130.87L560.4,130.65L561.84,130.43L563.28,130.23L564.73,130.03L566.17,129.86L567.61,129.7L569.05,129.56L570.49,129.45L571.93,129.37L573.38,129.28L574.82,129.21L576.26,129.14L577.7,129.08L579.14,129.03L580.58,128.98L582.02,128.95L583.47,128.92L584.91,128.9L586.35,128.88L587.79,128.86L589.23,128.84L590.67,128.83L592.12,128.82L593.56,128.81L595,128.81L596.44,128.81L597.88,128.83L599.33,128.86L600.77,128.89L602.21,128.93L603.65,128.98L605.09,129.03L606.53,129.07L607.98,129.12L609.42,129.17L610.86,129.21L612.3,129.25L613.74,129.3L615.18,129.34L616.62,129.39L618.07,129.44L619.51,129.49L620.95,129.54L622.39,129.59L623.83,129.64L625.27,129.69L626.72,129.75L628.16,129.8L629.6,129.85L631.04,129.91L632.48,129.96L633.92,130.01L635.37,130.07L636.81,130.12L638.25,130.17L639.69,130.23L641.13,130.29L642.58,130.35L644.02,130.4L645.46,130.46L646.9,130.52L648.34,130.58L649.78,130.64L651.23,130.69L652.67,130.75L654.11,130.8L655.55,130.85L656.99,130.9L658.43,130.95L659.88,130.99L661.32,131.04L662.76,131.08L664.2,131.13L665.64,131.17L667.08,131.21L668.53,131.25L669.97,131.29L671.41,131.33L672.85,131.37L674.29,131.41L675.73,131.44L677.17,131.48L678.62,131.51L680.06,131.55L681.5,131.58" fill="none" stroke="#000" stroke-width="0.612" stroke-linejoin="round"/>
<path d="M508.5,137.5L509.94,137.5L511.38,137.5L512.83,137.5L514.27,137.5L515.71,137.5L517.15,137.5L518.59,137.5L520.03,137.5L521.48,137.5L522.92,137.5L524.36,137.5L525.8,137.5L527.24,137.48L528.68,137.44L530.12,137.37L531.57,137.3L533.01,137.22L534.45,137.11L535.89,136.97L537.33,136.78L538.77,136.49L540.22,136.14L541.66,135.8L543.1,135.48L544.54,135.16L545.98,134.84L547.42,134.51L548.87,134.15L550.31,133.78L551.75,133.41L553.19,133.07L554.63,132.76L556.08,132.47L557.52,132.2L558.96,131.97L560.4,131.77L561.84,131.58L563.28,131.4L564.73,131.24L566.17,131.09L567.61,130.95L569.05,130.83L570.49,130.73L571.93,130.64L573.38,130.55L574.82,130.47L576.26,130.39L577.7,130.33L579.14,130.26L580.58,130.21L582.02,130.17L583.47,130.14L584.91,130.1L586.35,130.07L587.79,130.04L589.23,130.02L590.67,130L592.12,129.98L593.56,129.97L595,129.97L596.44,129.97L597.88,129.98L599.33,130L600.77,130.01L602.21,130.04L603.65,130.06L605.09,130.09L606.53,130.12L607.98,130.14L609.42,130.17L610.86,130.19L612.3,130.22L613.74,130.25L615.18,130.28L616.62,130.31L618.07,130.35L619.51,130.39L620.95,130.42L622.39,130.46L623.83,130.5L625.27,130.55L626.72,130.59L628.16,130.63L629.6,130.67L631.04,130.71L632.48,130.76L633.92,130.8L635.37,130.84L636.81,130.88L638.25,130.92L639.69,130.97L641.13,131.01L642.58,131.06L644.02,131.11L645.46,131.15L646.9,131.2L648.34,131.25L649.78,131.3L651.23,131.34L652.67,131.39L654.11,131.43L655.55,131.47L656.99,131.52L658.43,131.56L659.88,131.59L661.32,131.63L662.76,131.67L664.2,131.71L665.64,131.74L667.08,131.78L668.53,131.81L669.97,131.85L671.41,131.88L672.85,131.92L674.29,131.95L675.73,131.98L677.17,132.01L678.62,132.04L680.06,132.07L681.5,132.1" fill="none" stroke="#000" stroke-width="0.7067573289325794" stroke-linejoin="round"/>
<path d="M508.5,137.5L509.94,137.5L511.38,137.5L512.83,137.5L514.27,137.5L515.71,137.5L517.15,137.5L518.59,137.5L520.03,137.5L521.48,137.5L522.92,137.5L524.36,137.5L525.8,137.5L527.24,137.49L528.68,137.45L530.12,137.4L531.57,137.34L533.01,137.27L534.45,137.19L535.89,137.08L537.33,136.92L538.77,136.68L540.22,136.39L541.66,136.1L543.1,135.83L544.54,135.56L545.98,135.27L547.42,134.99L548.87,134.69L550.31,134.38L551.75,134.07L553.19,133.78L554.63,133.5L556.08,133.21L557.52,132.95L558.96,132.72L560.4,132.54L561.84,132.37L563.28,132.21L564.73,132.06L566.17,131.93L567.61,131.8L569.05,131.69L570.49,131.59L571.93,131.5L573.38,131.41L574.82,131.33L576.26,131.25L577.7,131.17L579.14,131.11L580.58,131.05L582.02,131L583.47,130.96L584.91,130.92L586.35,130.89L587.79,130.85L589.23,130.82L590.67,130.8L592.12,130.78L593.56,130.76L595,130.76L596.44,130.76L597.88,130.76L599.33,130.77L600.77,130.78L602.21,130.79L603.65,130.8L605.09,130.82L606.53,130.83L607.98,130.84L609.42,130.85L610.86,130.86L612.3,130.88L613.74,130.9L615.18,130.92L616.62,130.94L618.07,130.97L619.51,131L620.95,131.03L622.39,131.06L623.83,131.09L625.27,131.12L626.72,131.16L628.16,131.19L629.6,131.23L631.04,131.27L632.48,131.3L633.92,131.33L635.37,131.37L636.81,131.4L638.25,131.44L639.69,131.47L641.13,131.51L642.58,131.55L644.02,131.59L645.46,131.63L646.9,131.67L648.34,131.71L649.78,131.75L651.23,131.79L652.67,131.82L654.11,131.86L655.55,131.9L656.99,131.94L658.43,131.97L659.88,132L661.32,132.04L662.76,132.07L664.2,132.1L665.64,132.13L667.08,132.17L668.53,132.2L669.97,132.23L671.41,132.26L672.85,132.29L674.29,132.32L675.73,132.35L677.17,132.38L678.62,132.41L680.06,132.43L681.5,132.46" fill="none" stroke="#000" stroke-width="0.7713621964368462" stroke-linejoin="round"/>
<path d="M508.5,137.5L509.94,137.5L511.38,137.5L512.83,137.5L514.27,137.5L515.71,137.5L517.15,137.5L518.59,137.5L520.03,137.5L521.48,137.5L522.92,137.5L524.36,137.5L525.8,137.5L527.24,137.49L528.68,137.46L530.12,137.42L531.57,137.37L533.01,137.32L534.45,137.25L535.89,137.16L537.33,137.04L538.77,136.84L540.22,136.6L541.66,136.37L543.1,136.14L544.54,135.9L545.98,135.65L547.42,135.41L548.87,135.16L550.31,134.91L551.75,134.65L553.19,134.4L554.63,134.14L556.08,133.86L557.52,133.6L558.96,133.38L560.4,133.21L561.84,133.05L563.28,132.91L564.73,132.78L566.17,132.66L567.61,132.55L569.05,132.45L570.49,132.35L571.93,132.26L573.38,132.17L574.82,132.08L576.26,132L577.7,131.92L579.14,131.85L580.58,131.79L582.02,131.73L583.47,131.69L584.91,131.64L586.35,131.6L587.79,131.56L589.23,131.53L590.67,131.5L592.12,131.47L593.56,131.46L595,131.45L596.44,131.45L597.88,131.45L599.33,131.45L600.77,131.45L602.21,131.45L603.65,131.45L605.09,131.45L606.53,131.45L607.98,131.45L609.42,131.45L610.86,131.45L612.3,131.46L613.74,131.47L615.18,131.48L616.62,131.49L618.07,131.51L619.51,131.53L620.95,131.55L622.39,131.58L623.83,131.61L625.27,131.63L626.72,131.66L628.16,131.69L629.6,131.72L631.04,131.75L632.48,131.78L633.92,131.8L635.37,131.83L636.81,131.86L638.25,131.88L639.69,131.91L641.13,131.94L642.58,131.98L644.02,132.01L645.46,132.04L646.9,132.07L648.34,132.11L649.78,132.14L651.23,132.18L652.67,132.21L654.11,132.24L655.55,132.27L656.99,132.3L658.43,132.33L659.88,132.36L661.32,132.39L662.76,132.42L664.2,132.45L665.64,132.48L667.08,132.51L668.53,132.53L669.97,132.56L671.41,132.59L672.85,132.62L674.29,132.64L675.73,132.67L677.17,132.7L678.62,132.72L680.06,132.75L681.5,132.78" fill="none" stroke="#000" stroke-width="0.828" stroke-linejoin="round"/>
<path d="M508.5,137.5L509.94,137.5L511.38,137.5L512.83,137.5L514.27,137.5L515.71,137.5L517.15,137.5L518.59,137.5L520.03,137.5L521.48,137.5L522.92,137.5L524.36,137.5L525.8,137.5L527.24,137.5L528.68,137.5L530.12,137.5L531.57,137.5L533.01,137.49L534.45,137.46L535.89,137.42L537.33,137.37L538.77,137.29L540.22,137.15L541.66,137L543.1,136.84L544.54,136.66L545.98,136.48L547.42,136.28L548.87,136.06L550.31,135.82L551.75,135.58L553.19,135.39L554.63,135.25L556.08,135.12L557.52,135L558.96,134.9L560.4,134.8L561.84,134.72L563.28,134.66L564.73,134.61L566.17,134.58L567.61,134.55L569.05,134.52L570.49,134.5L571.93,134.48L573.38,134.46L574.82,134.44L576.26,134.42L577.7,134.41L579.14,134.4L580.58,134.38L582.02,134.37L583.47,134.35L584.91,134.33L586.35,134.32L587.79,134.3L589.23,134.29L590.67,134.28L592.12,134.26L593.56,134.25L595,134.23L596.44,134.22L597.88,134.21L599.33,134.2L600.77,134.18L602.21,134.17L603.65,134.16L605.09,134.14L606.53,134.13L607.98,134.12L609.42,134.1L610.86,134.09L612.3,134.07L613.74,134.06L615.18,134.04L616.62,134.03L618.07,134.01L619.51,134L620.95,133.98L622.39,133.96L623.83,133.95L625.27,133.93L626.72,133.92L628.16,133.9L629.6,133.88L631.04,133.87L632.48,133.85L633.92,133.84L635.37,133.82L636.81,133.81L638.25,133.79L639.69,133.78L641.13,133.77L642.58,133.75L644.02,133.74L645.46,133.73L646.9,133.72L648.34,133.71L649.78,133.7L651.23,133.69L652.67,133.68L654.11,133.67L655.55,133.66L656.99,133.65L658.43,133.64L659.88,133.63L661.32,133.63L662.76,133.62L664.2,133.61L665.64,133.6L667.08,133.59L668.53,133.59L669.97,133.58L671.41,133.57L672.85,133.56L674.29,133.56L675.73,133.55L677.17,133.55L678.62,133.54L680.06,133.54L681.5,133.53L681.5,137.5L508.5,137.5Z" fill="#000" stroke="#000" stroke-width="0.5"/>
<rect x="508.5" y="11.5" width="173" height="126" fill="none" stroke="#1e1e1e" stroke-width="0.95"/>
<path d="M508.5,137.5v-5M508.5,11.5v5M537.33,137.5v-5M537.33,11.5v5M566.17,137.5v-5M566.17,11.5v5M595,137.5v-5M595,11.5v5M623.83,137.5v-5M623.83,11.5v5M652.67,137.5v-5M652.67,11.5v5M681.5,137.5v-5M681.5,11.5v5M522.92,137.5v-2.3M522.92,11.5v2.3M551.75,137.5v-2.3M551.75,11.5v2.3M580.58,137.5v-2.3M580.58,11.5v2.3M609.42,137.5v-2.3M609.42,11.5v2.3M638.25,137.5v-2.3M638.25,11.5v2.3M667.08,137.5v-2.3M667.08,11.5v2.3M508.5,137.5h5M681.5,137.5h-5M508.5,112.3h5M681.5,112.3h-5M508.5,87.1h5M681.5,87.1h-5M508.5,61.9h5M681.5,61.9h-5M508.5,36.7h5M681.5,36.7h-5M508.5,11.5h5M681.5,11.5h-5M508.5,124.9h2.3M681.5,124.9h-2.3M508.5,99.7h2.3M681.5,99.7h-2.3M508.5,74.5h2.3M681.5,74.5h-2.3M508.5,49.3h2.3M681.5,49.3h-2.3M508.5,24.1h2.3M681.5,24.1h-2.3" fill="none" stroke="#000" stroke-width="0.95"/>
<text x="510.3" y="150.6" font-size="12.2" text-anchor="middle">0</text>
<text x="539.13" y="150.6" font-size="12.2" text-anchor="middle">0.5</text>
<text x="567.97" y="150.6" font-size="12.2" text-anchor="middle">1</text>
<text x="596.8" y="150.6" font-size="12.2" text-anchor="middle">1.5</text>
<text x="625.63" y="150.6" font-size="12.2" text-anchor="middle">2</text>
<text x="654.47" y="150.6" font-size="12.2" text-anchor="middle">2.5</text>
<text x="683.3" y="150.6" font-size="12.2" text-anchor="middle">3</text>
<text x="501.5" y="142.2" font-size="12.2" text-anchor="end">0</text>
<text x="501.5" y="117" font-size="12.2" text-anchor="end">0.2</text>
<text x="501.5" y="91.8" font-size="12.2" text-anchor="end">0.4</text>
<text x="501.5" y="66.6" font-size="12.2" text-anchor="end">0.6</text>
<text x="501.5" y="41.4" font-size="12.2" text-anchor="end">0.8</text>
<text x="501.5" y="16.2" font-size="12.2" text-anchor="end">1</text>
<text x="599.2" y="36.2" font-size="13.5">ΔN=0</text>
<text x="548.6" y="172.5" font-size="15.9">Temperature <tspan font-style="italic">T</tspan></text>
<g transform="translate(0,0)" fill="none" stroke="#000" stroke-linecap="round" stroke-linejoin="round"><path d="M461.8,74.1L469.4,76.4" stroke-width="1.15"/><path d="M469.5,72.9V79.8" stroke-width="0.95"/><path d="M465.9,78.9C463.6,78.9 461.2,77.2 461.1,74.2C461,71.3 462.4,69.9 463.6,70C465,70.1 465.9,71.6 465.8,73C465.7,74.1 465.2,74.8 464.6,75" stroke-width="0.95"/><path d="M468.2,69.7L473.6,71.0" stroke-width="1.05"/><path d="M468.2,69.7l0.4,0.9M473.6,71.0l-0.4,-0.9" stroke-width="0.7"/><circle cx="465.8" cy="69.0" r="0.55" fill="#000" stroke="none"/></g>
<path d="M508.5,260.25H681.5" stroke="#cdcdcd" stroke-width="0.85" stroke-dasharray="3.9,1.63" stroke-dashoffset="1.2" fill="none"/>
<path d="M508.5,197L509.66,197L510.82,197L511.98,197L513.14,197L514.31,197L515.47,197.1L516.63,197.37L517.79,197.78L518.95,198.3L520.11,198.9L521.27,199.6L522.43,200.78L523.59,202.36L524.76,204.16L525.92,206L527.08,208.01L528.24,210.27L529.4,212.66L530.56,215.08L531.72,217.41L532.88,219.75L534.04,222.1L535.2,224.46L536.37,226.81L537.53,229.14L538.69,231.45L539.85,233.76L541.01,236.06L542.17,238.35L543.33,240.61L544.49,242.85L545.65,245.05L546.82,247.21L547.98,249.35L549.14,251.49L550.3,253.63L551.46,255.79L552.62,257.99L553.78,260.27L554.94,262.71L556.1,265.11L557.27,267.27L558.43,269.13L559.59,270.9L560.75,272.61L561.91,274.25L563.07,275.82L564.23,277.32L565.39,278.76L566.55,280.12L567.71,281.42L568.88,282.66L570.04,283.83L571.2,284.94L572.36,286L573.52,287.02L574.68,287.99L575.84,288.93L577,289.82L578.16,290.68L579.33,291.51L580.49,292.3L581.65,293.07L582.81,293.81L583.97,294.52L585.13,295.22L586.29,295.9L587.45,296.56L588.61,297.21L589.78,297.83L590.94,298.43L592.1,299L593.26,299.55L594.42,300.06L595.58,300.55L596.74,301.01L597.9,301.44L599.06,301.85L600.22,302.23L601.39,302.6L602.55,302.96L603.71,303.3L604.87,303.63L606.03,303.95L607.19,304.25L608.35,304.56L609.51,304.85L610.67,305.15L611.84,305.44L613,305.72L614.16,305.99L615.32,306.26L616.48,306.53L617.64,306.78L618.8,307.03L619.96,307.27L621.12,307.5L622.29,307.72L623.45,307.93L624.61,308.13L625.77,308.33L626.93,308.53L628.09,308.71L629.25,308.89L630.41,309.07L631.57,309.24L632.73,309.41L633.9,309.57L635.06,309.73L636.22,309.88L637.38,310.03L638.54,310.18L639.7,310.32L640.86,310.46L642.02,310.6L643.18,310.73L644.35,310.86L645.51,310.99L646.67,311.11L647.83,311.24L648.99,311.36L650.15,311.48L651.31,311.6L652.47,311.72L653.63,311.84L654.8,311.96L655.96,312.07L657.12,312.18L658.28,312.29L659.44,312.4L660.6,312.5L661.76,312.6L662.92,312.7L664.08,312.8L665.24,312.89L666.41,312.98L667.57,313.08L668.73,313.17L669.89,313.26L671.05,313.34L672.21,313.43L673.37,313.52L674.53,313.6L675.69,313.68L676.86,313.76L678.02,313.83L679.18,313.91L680.34,313.98L681.5,314.05" fill="none" stroke="#000" stroke-width="0.75" stroke-linejoin="round"/>
<path d="M508.5,323.5L509.66,323.5L510.82,323.5L511.98,323.5L513.14,323.5L514.31,323.5L515.47,323.46L516.63,323.36L517.79,323.22L518.95,322.99L520.11,322.43L521.27,321.66L522.43,320.81L523.59,319.99L524.76,319.05L525.92,318.04L527.08,317.01L528.24,316.04L529.4,315.14L530.56,314.23L531.72,313.33L532.88,312.45L534.04,311.61L535.2,310.83L536.37,310.14L537.53,309.55L538.69,308.99L539.85,308.46L541.01,307.96L542.17,307.5L543.33,307.1L544.49,306.78L545.65,306.54L546.82,306.37L547.98,306.22L549.14,306.08L550.3,305.96L551.46,305.86L552.62,305.79L553.78,305.74L554.94,305.73L556.1,305.76L557.27,305.82L558.43,305.9L559.59,306L560.75,306.11L561.91,306.23L563.07,306.34L564.23,306.46L565.39,306.61L566.55,306.78L567.71,306.96L568.88,307.14L570.04,307.33L571.2,307.51L572.36,307.69L573.52,307.86L574.68,308.03L575.84,308.21L577,308.39L578.16,308.56L579.33,308.74L580.49,308.91L581.65,309.08L582.81,309.25L583.97,309.42L585.13,309.58L586.29,309.74L587.45,309.91L588.61,310.07L589.78,310.24L590.94,310.4L592.1,310.57L593.26,310.73L594.42,310.89L595.58,311.05L596.74,311.21L597.9,311.37L599.06,311.52L600.22,311.67L601.39,311.82L602.55,311.97L603.71,312.11L604.87,312.24L606.03,312.38L607.19,312.5L608.35,312.62L609.51,312.74L610.67,312.85L611.84,312.96L613,313.07L614.16,313.18L615.32,313.28L616.48,313.38L617.64,313.48L618.8,313.57L619.96,313.67L621.12,313.76L622.29,313.85L623.45,313.94L624.61,314.03L625.77,314.11L626.93,314.2L628.09,314.28L629.25,314.36L630.41,314.44L631.57,314.51L632.73,314.59L633.9,314.66L635.06,314.73L636.22,314.8L637.38,314.87L638.54,314.94L639.7,315L640.86,315.06L642.02,315.13L643.18,315.19L644.35,315.25L645.51,315.31L646.67,315.37L647.83,315.43L648.99,315.48L650.15,315.54L651.31,315.59L652.47,315.64L653.63,315.7L654.8,315.75L655.96,315.8L657.12,315.85L658.28,315.9L659.44,315.94L660.6,315.99L661.76,316.04L662.92,316.08L664.08,316.13L665.24,316.17L666.41,316.21L667.57,316.26L668.73,316.3L669.89,316.34L671.05,316.38L672.21,316.42L673.37,316.45L674.53,316.49L675.69,316.53L676.86,316.56L678.02,316.6L679.18,316.63L680.34,316.66L681.5,316.69" fill="none" stroke="#000" stroke-width="0.75" stroke-linejoin="round"/>
<path d="M508.5,323.5L509.66,323.5L510.82,323.5L511.98,323.5L513.14,323.5L514.31,323.5L515.47,323.49L516.63,323.45L517.79,323.39L518.95,323.32L520.11,322.97L521.27,322.31L522.43,321.54L523.59,320.79L524.76,319.95L525.92,319.04L527.08,318.12L528.24,317.25L529.4,316.47L530.56,315.7L531.72,314.93L532.88,314.2L534.04,313.49L535.2,312.84L536.37,312.23L537.53,311.7L538.69,311.18L539.85,310.68L541.01,310.2L542.17,309.75L543.33,309.36L544.49,309.04L545.65,308.81L546.82,308.64L547.98,308.49L549.14,308.35L550.3,308.23L551.46,308.13L552.62,308.05L553.78,308.01L554.94,308L556.1,308.01L557.27,308.02L558.43,308.03L559.59,308.05L560.75,308.07L561.91,308.1L563.07,308.12L564.23,308.15L565.39,308.19L566.55,308.23L567.71,308.28L568.88,308.33L570.04,308.4L571.2,308.46L572.36,308.53L573.52,308.62L574.68,308.72L575.84,308.83L577,308.96L578.16,309.09L579.33,309.23L580.49,309.37L581.65,309.52L582.81,309.65L583.97,309.79L585.13,309.92L586.29,310.06L587.45,310.21L588.61,310.35L589.78,310.5L590.94,310.65L592.1,310.8L593.26,310.96L594.42,311.11L595.58,311.27L596.74,311.42L597.9,311.58L599.06,311.73L600.22,311.88L601.39,312.03L602.55,312.18L603.71,312.33L604.87,312.47L606.03,312.61L607.19,312.74L608.35,312.87L609.51,312.99L610.67,313.11L611.84,313.23L613,313.34L614.16,313.46L615.32,313.57L616.48,313.68L617.64,313.79L618.8,313.9L619.96,314L621.12,314.11L622.29,314.21L623.45,314.31L624.61,314.41L625.77,314.51L626.93,314.6L628.09,314.7L629.25,314.79L630.41,314.88L631.57,314.97L632.73,315.05L633.9,315.14L635.06,315.22L636.22,315.3L637.38,315.38L638.54,315.46L639.7,315.54L640.86,315.61L642.02,315.69L643.18,315.76L644.35,315.83L645.51,315.9L646.67,315.97L647.83,316.03L648.99,316.1L650.15,316.17L651.31,316.23L652.47,316.3L653.63,316.36L654.8,316.42L655.96,316.48L657.12,316.54L658.28,316.6L659.44,316.66L660.6,316.72L661.76,316.78L662.92,316.84L664.08,316.9L665.24,316.96L666.41,317.02L667.57,317.07L668.73,317.13L669.89,317.19L671.05,317.24L672.21,317.29L673.37,317.35L674.53,317.4L675.69,317.45L676.86,317.5L678.02,317.55L679.18,317.6L680.34,317.65L681.5,317.7" fill="none" stroke="#000" stroke-width="0.75" stroke-linejoin="round"/>
<path d="M508.5,323.5L509.94,323.5L511.38,323.5L512.83,323.5L514.27,323.5L515.71,323.5L517.15,323.5L518.59,323.5L520.03,323.5L521.48,323.5L522.92,323.5L524.36,323.5L525.8,323.5L527.24,323.48L528.68,323.42L530.12,323.34L531.57,323.25L533.01,323.09L534.45,322.87L535.89,322.56L537.33,322.16L538.77,321.71L540.22,321.26L541.66,320.84L543.1,320.46L544.54,320.08L545.98,319.72L547.42,319.39L548.87,319.09L550.31,318.82L551.75,318.57L553.19,318.35L554.63,318.16L556.08,317.99L557.52,317.83L558.96,317.7L560.4,317.6L561.84,317.5L563.28,317.41L564.73,317.33L566.17,317.25L567.61,317.18L569.05,317.12L570.49,317.06L571.93,317L573.38,316.95L574.82,316.89L576.26,316.84L577.7,316.79L579.14,316.75L580.58,316.71L582.02,316.68L583.47,316.66L584.91,316.64L586.35,316.62L587.79,316.6L589.23,316.58L590.67,316.56L592.12,316.55L593.56,316.55L595,316.54L596.44,316.54L597.88,316.55L599.33,316.56L600.77,316.57L602.21,316.58L603.65,316.6L605.09,316.61L606.53,316.63L607.98,316.65L609.42,316.66L610.86,316.68L612.3,316.7L613.74,316.72L615.18,316.74L616.62,316.77L618.07,316.8L619.51,316.83L620.95,316.85L622.39,316.89L623.83,316.92L625.27,316.95L626.72,316.98L628.16,317.02L629.6,317.05L631.04,317.08L632.48,317.11L633.92,317.14L635.37,317.18L636.81,317.21L638.25,317.24L639.69,317.27L641.13,317.3L642.58,317.33L644.02,317.36L645.46,317.39L646.9,317.43L648.34,317.46L649.78,317.49L651.23,317.52L652.67,317.55L654.11,317.59L655.55,317.62L656.99,317.65L658.43,317.68L659.88,317.71L661.32,317.74L662.76,317.78L664.2,317.81L665.64,317.84L667.08,317.87L668.53,317.9L669.97,317.93L671.41,317.97L672.85,318L674.29,318.03L675.73,318.06L677.17,318.09L678.62,318.12L680.06,318.16L681.5,318.19" fill="none" stroke="#000" stroke-width="0.7224999999999999" stroke-linejoin="round"/>
<path d="M508.5,323.5L509.94,323.5L511.38,323.5L512.83,323.5L514.27,323.5L515.71,323.5L517.15,323.5L518.59,323.5L520.03,323.5L521.48,323.5L522.92,323.5L524.36,323.5L525.8,323.5L527.24,323.49L528.68,323.46L530.12,323.42L531.57,323.37L533.01,323.28L534.45,323.12L535.89,322.89L537.33,322.58L538.77,322.21L540.22,321.83L541.66,321.48L543.1,321.14L544.54,320.79L545.98,320.45L547.42,320.14L548.87,319.86L550.31,319.58L551.75,319.33L553.19,319.11L554.63,318.92L556.08,318.74L557.52,318.59L558.96,318.46L560.4,318.36L561.84,318.27L563.28,318.18L564.73,318.1L566.17,318.03L567.61,317.97L569.05,317.92L570.49,317.88L571.93,317.84L573.38,317.81L574.82,317.79L576.26,317.76L577.7,317.74L579.14,317.72L580.58,317.7L582.02,317.69L583.47,317.68L584.91,317.67L586.35,317.65L587.79,317.64L589.23,317.64L590.67,317.63L592.12,317.62L593.56,317.62L595,317.62L596.44,317.62L597.88,317.62L599.33,317.62L600.77,317.63L602.21,317.64L603.65,317.64L605.09,317.65L606.53,317.66L607.98,317.67L609.42,317.68L610.86,317.69L612.3,317.7L613.74,317.71L615.18,317.73L616.62,317.75L618.07,317.77L619.51,317.79L620.95,317.81L622.39,317.84L623.83,317.86L625.27,317.89L626.72,317.91L628.16,317.94L629.6,317.96L631.04,317.99L632.48,318.01L633.92,318.04L635.37,318.06L636.81,318.08L638.25,318.11L639.69,318.13L641.13,318.16L642.58,318.18L644.02,318.21L645.46,318.23L646.9,318.26L648.34,318.28L649.78,318.31L651.23,318.33L652.67,318.35L654.11,318.38L655.55,318.4L656.99,318.42L658.43,318.44L659.88,318.46L661.32,318.48L662.76,318.5L664.2,318.51L665.64,318.53L667.08,318.55L668.53,318.56L669.97,318.58L671.41,318.6L672.85,318.61L674.29,318.63L675.73,318.64L677.17,318.65L678.62,318.67L680.06,318.68L681.5,318.69" fill="none" stroke="#000" stroke-width="0.9774999999999999" stroke-linejoin="round"/>
<path d="M508.5,323.5L509.94,323.5L511.38,323.5L512.83,323.5L514.27,323.5L515.71,323.5L517.15,323.5L518.59,323.5L520.03,323.5L521.48,323.5L522.92,323.5L524.36,323.5L525.8,323.5L527.24,323.5L528.68,323.5L530.12,323.5L531.57,323.5L533.01,323.49L534.45,323.46L535.89,323.42L537.33,323.37L538.77,323.31L540.22,323.22L541.66,323.12L543.1,323.03L544.54,322.93L545.98,322.83L547.42,322.72L548.87,322.61L550.31,322.5L551.75,322.38L553.19,322.26L554.63,322.12L556.08,321.97L557.52,321.8L558.96,321.65L560.4,321.52L561.84,321.42L563.28,321.35L564.73,321.28L566.17,321.22L567.61,321.16L569.05,321.11L570.49,321.05L571.93,320.99L573.38,320.94L574.82,320.88L576.26,320.83L577.7,320.78L579.14,320.73L580.58,320.69L582.02,320.64L583.47,320.6L584.91,320.56L586.35,320.52L587.79,320.48L589.23,320.45L590.67,320.42L592.12,320.39L593.56,320.36L595,320.33L596.44,320.3L597.88,320.28L599.33,320.25L600.77,320.23L602.21,320.21L603.65,320.18L605.09,320.16L606.53,320.14L607.98,320.12L609.42,320.09L610.86,320.07L612.3,320.05L613.74,320.03L615.18,320L616.62,319.98L618.07,319.96L619.51,319.94L620.95,319.91L622.39,319.89L623.83,319.87L625.27,319.85L626.72,319.83L628.16,319.81L629.6,319.79L631.04,319.77L632.48,319.75L633.92,319.73L635.37,319.71L636.81,319.69L638.25,319.67L639.69,319.66L641.13,319.64L642.58,319.62L644.02,319.61L645.46,319.59L646.9,319.58L648.34,319.56L649.78,319.55L651.23,319.54L652.67,319.53L654.11,319.51L655.55,319.5L656.99,319.49L658.43,319.47L659.88,319.46L661.32,319.45L662.76,319.44L664.2,319.43L665.64,319.42L667.08,319.41L668.53,319.4L669.97,319.39L671.41,319.38L672.85,319.37L674.29,319.36L675.73,319.35L677.17,319.35L678.62,319.34L680.06,319.33L681.5,319.33L681.5,323.5L508.5,323.5Z" fill="#000" stroke="#000" stroke-width="0.5"/>
<path d="M508.5,323.5L509.94,323.5L511.38,323.5L512.83,323.5L514.27,323.5L515.71,323.5L517.15,323.5L518.59,323.5L520.03,323.5L521.48,323.5L522.92,323.5L524.36,323.5L525.8,323.5L527.24,323.5L528.68,323.5L530.12,323.5L531.57,323.5L533.01,323.49L534.45,323.46L535.89,323.42L537.33,323.37L538.77,323.25L540.22,323.02L541.66,322.74L543.1,322.49L544.54,322.25L545.98,322L547.42,321.75L548.87,321.5L550.31,321.26L551.75,321.05L553.19,320.87L554.63,320.72L556.08,320.57L557.52,320.42L558.96,320.28L560.4,320.16L561.84,320.05L563.28,319.97L564.73,319.91L566.17,319.89L567.61,319.9L569.05,319.91L570.49,319.93L571.93,319.96L573.38,319.98L574.82,320.02L576.26,320.05L577.7,320.08L579.14,320.13L580.58,320.19L582.02,320.27L583.47,320.34L584.91,320.42L586.35,320.49L587.79,320.55L589.23,320.59L590.67,320.62L592.12,320.65L593.56,320.67L595,320.7L596.44,320.72L597.88,320.74L599.33,320.77L600.77,320.79L602.21,320.81L603.65,320.83L605.09,320.85L606.53,320.86L607.98,320.88L609.42,320.9L610.86,320.91L612.3,320.92L613.74,320.93L615.18,320.94L616.62,320.95L618.07,320.96L619.51,320.96L620.95,320.97L622.39,320.97L623.83,320.97L625.27,320.97L626.72,320.97L628.16,320.97L629.6,320.97L631.04,320.97L632.48,320.97L633.92,320.97L635.37,320.97L636.81,320.97L638.25,320.97L639.69,320.97L641.13,320.97L642.58,320.97L644.02,320.97L645.46,320.97L646.9,320.97L648.34,320.97L649.78,320.97L651.23,320.97L652.67,320.97L654.11,320.97L655.55,320.97L656.99,320.97L658.43,320.97L659.88,320.97L661.32,320.97L662.76,320.97L664.2,320.97L665.64,320.97L667.08,320.97L668.53,320.97L669.97,320.97L671.41,320.97L672.85,320.97L674.29,320.97L675.73,320.97L677.17,320.97L678.62,320.97L680.06,320.97L681.5,320.97" fill="none" stroke="#000" stroke-width="0.5" stroke-linejoin="round"/>
<rect x="508.5" y="197" width="173" height="126.5" fill="none" stroke="#1e1e1e" stroke-width="0.95"/>
<path d="M508.5,323.5v-5M508.5,197v5M537.33,323.5v-5M537.33,197v5M566.17,323.5v-5M566.17,197v5M595,323.5v-5M595,197v5M623.83,323.5v-5M623.83,197v5M652.67,323.5v-5M652.67,197v5M681.5,323.5v-5M681.5,197v5M522.92,323.5v-2.3M522.92,197v2.3M551.75,323.5v-2.3M551.75,197v2.3M580.58,323.5v-2.3M580.58,197v2.3M609.42,323.5v-2.3M609.42,197v2.3M638.25,323.5v-2.3M638.25,197v2.3M667.08,323.5v-2.3M667.08,197v2.3M508.5,323.5h5M681.5,323.5h-5M508.5,298.2h5M681.5,298.2h-5M508.5,272.9h5M681.5,272.9h-5M508.5,247.6h5M681.5,247.6h-5M508.5,222.3h5M681.5,222.3h-5M508.5,197h5M681.5,197h-5M508.5,310.85h2.3M681.5,310.85h-2.3M508.5,285.55h2.3M681.5,285.55h-2.3M508.5,260.25h2.3M681.5,260.25h-2.3M508.5,234.95h2.3M681.5,234.95h-2.3M508.5,209.65h2.3M681.5,209.65h-2.3" fill="none" stroke="#000" stroke-width="0.95"/>
<text x="510.3" y="336.6" font-size="12.2" text-anchor="middle">0</text>
<text x="539.13" y="336.6" font-size="12.2" text-anchor="middle">0.5</text>
<text x="567.97" y="336.6" font-size="12.2" text-anchor="middle">1</text>
<text x="596.8" y="336.6" font-size="12.2" text-anchor="middle">1.5</text>
<text x="625.63" y="336.6" font-size="12.2" text-anchor="middle">2</text>
<text x="654.47" y="336.6" font-size="12.2" text-anchor="middle">2.5</text>
<text x="683.3" y="336.6" font-size="12.2" text-anchor="middle">3</text>
<text x="501.5" y="328.2" font-size="12.2" text-anchor="end">0</text>
<text x="501.5" y="302.9" font-size="12.2" text-anchor="end">0.2</text>
<text x="501.5" y="277.6" font-size="12.2" text-anchor="end">0.4</text>
<text x="501.5" y="252.3" font-size="12.2" text-anchor="end">0.6</text>
<text x="501.5" y="227" font-size="12.2" text-anchor="end">0.8</text>
<text x="501.5" y="201.7" font-size="12.2" text-anchor="end">1</text>
<text x="599.2" y="221.7" font-size="13.5">ΔN=6</text>
<text x="548.6" y="357" font-size="15.9">Temperature <tspan font-style="italic">T</tspan></text>
<g transform="translate(0,185.75)" fill="none" stroke="#000" stroke-linecap="round" stroke-linejoin="round"><path d="M461.8,74.1L469.4,76.4" stroke-width="1.15"/><path d="M469.5,72.9V79.8" stroke-width="0.95"/><path d="M465.9,78.9C463.6,78.9 461.2,77.2 461.1,74.2C461,71.3 462.4,69.9 463.6,70C465,70.1 465.9,71.6 465.8,73C465.7,74.1 465.2,74.8 464.6,75" stroke-width="0.95"/><path d="M468.2,69.7L473.6,71.0" stroke-width="1.05"/><path d="M468.2,69.7l0.4,0.9M473.6,71.0l-0.4,-0.9" stroke-width="0.7"/><circle cx="465.8" cy="69.0" r="0.55" fill="#000" stroke="none"/></g>
<text x="1.5" y="11.7" font-size="17.3">a<tspan font-size="17" dx="0" dy="-0.5">)</tspan></text>
<text x="465.3" y="10.7" font-size="17.3">b<tspan font-size="16.3" dx="-0.6" dy="-0.3">)</tspan></text>
</svg>
</body></html>
